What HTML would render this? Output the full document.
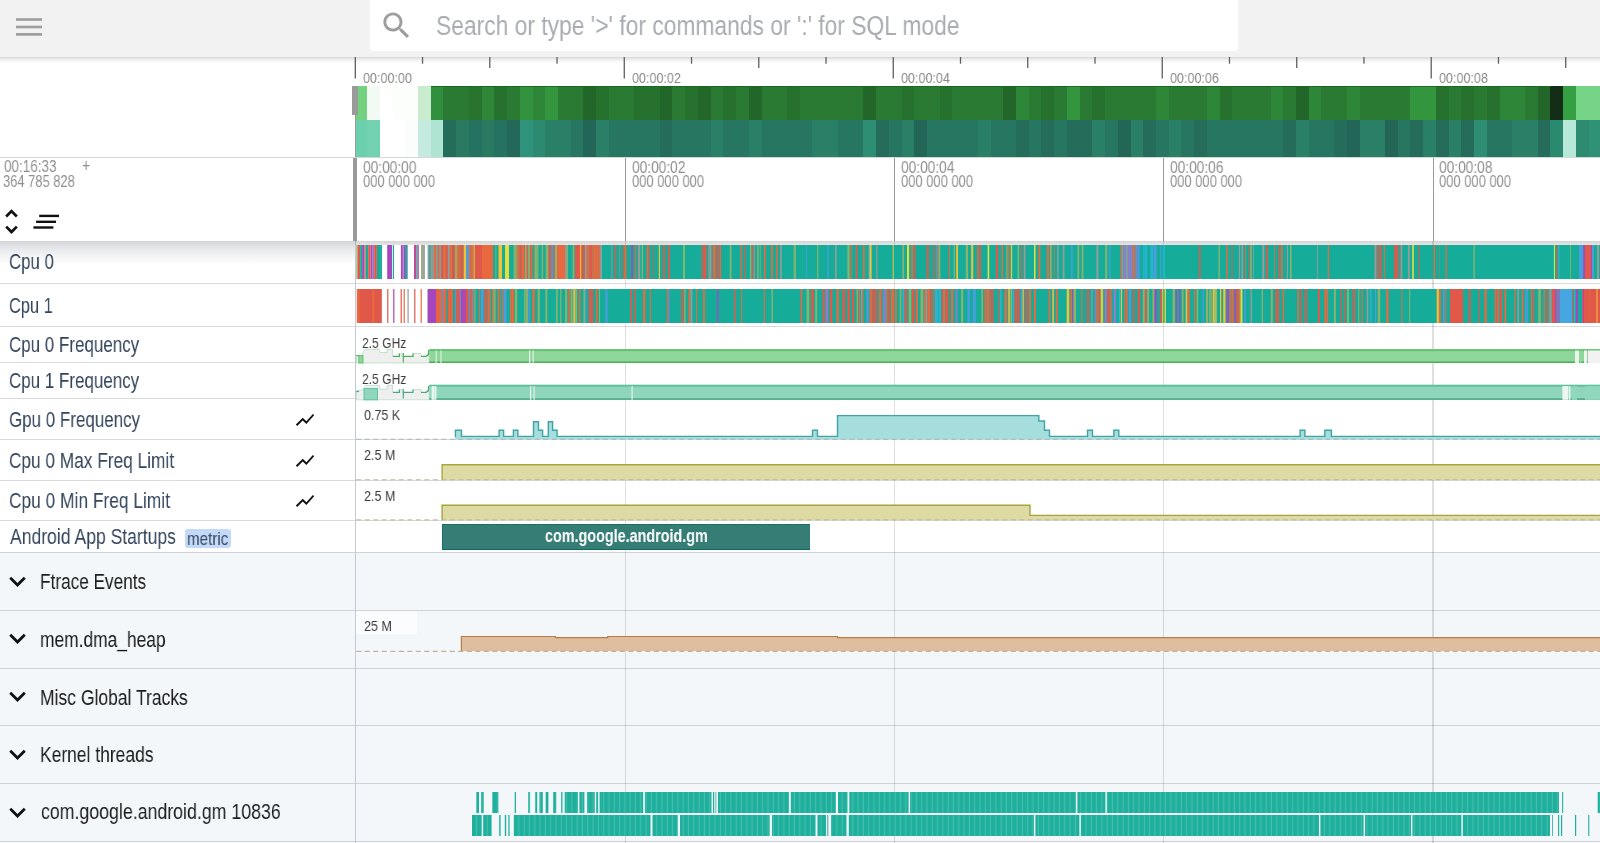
<!DOCTYPE html>
<html><head><meta charset="utf-8"><style>
html,body{margin:0;padding:0;}
body{width:1600px;height:843px;overflow:hidden;position:relative;background:#fff;font-family:"Liberation Sans",sans-serif;}
</style></head><body>
<div style="position:absolute;left:0px;top:0px;width:1600px;height:57px;background:#f2f2f2;"></div><div style="position:absolute;left:0;top:57px;width:1600px;height:6px;background:linear-gradient(rgba(0,0,0,0.16),rgba(0,0,0,0.07) 40%,rgba(0,0,0,0))"></div><svg style="position:absolute;left:0;top:0" width="60" height="57"><g fill="#9c9c9c"><rect x="16" y="18.2" width="26" height="2.6"/><rect x="16" y="25.7" width="26" height="2.6"/><rect x="16" y="33.1" width="26" height="2.6"/></g></svg><div style="position:absolute;left:370px;top:0px;width:868px;height:51px;background:#ffffff;border-radius:0 0 3px 3px"></div><svg style="position:absolute;left:378.6px;top:7.6px" width="35.2" height="35.2" viewBox="0 0 24 24"><path fill="#9d9d9d" d="M15.5 14h-.79l-.28-.27C15.41 12.59 16 11.11 16 9.5 16 5.91 13.09 3 9.5 3S3 5.91 3 9.5 5.91 16 9.5 16c1.610 0 3.09-.59 4.23-1.57l.27.28v.79l5 4.99L20.49 19l-4.99-5zm-6 0C7.01 14 5 11.99 5 9.5S7.01 5 9.5 5 14 7.01 14 9.5 11.99 14 9.5 14z"/></svg><svg style="position:absolute;left:0;top:57px" width="1600" height="30"><rect x="354.65" y="0" width="1.3" height="21.5" fill="#5f5f5f"/><rect x="421.90" y="0" width="1.3" height="6.7" fill="#5f5f5f"/><rect x="489.14" y="0" width="1.3" height="11" fill="#5f5f5f"/><rect x="556.39" y="0" width="1.3" height="6.7" fill="#5f5f5f"/><rect x="623.63" y="0" width="1.3" height="21.5" fill="#5f5f5f"/><rect x="690.88" y="0" width="1.3" height="6.7" fill="#5f5f5f"/><rect x="758.12" y="0" width="1.3" height="11" fill="#5f5f5f"/><rect x="825.37" y="0" width="1.3" height="6.7" fill="#5f5f5f"/><rect x="892.61" y="0" width="1.3" height="21.5" fill="#5f5f5f"/><rect x="959.86" y="0" width="1.3" height="6.7" fill="#5f5f5f"/><rect x="1027.10" y="0" width="1.3" height="11" fill="#5f5f5f"/><rect x="1094.34" y="0" width="1.3" height="6.7" fill="#5f5f5f"/><rect x="1161.59" y="0" width="1.3" height="21.5" fill="#5f5f5f"/><rect x="1228.84" y="0" width="1.3" height="6.7" fill="#5f5f5f"/><rect x="1296.08" y="0" width="1.3" height="11" fill="#5f5f5f"/><rect x="1363.32" y="0" width="1.3" height="6.7" fill="#5f5f5f"/><rect x="1430.57" y="0" width="1.3" height="21.5" fill="#5f5f5f"/><rect x="1497.82" y="0" width="1.3" height="6.7" fill="#5f5f5f"/><rect x="1565.06" y="0" width="1.3" height="11" fill="#5f5f5f"/></svg><svg style="position:absolute;left:0;top:86px" width="1600" height="71" shape-rendering="crispEdges"><rect x="355.60" y="0" width="11.90" height="34.2" fill="#74d17f"/><rect x="355.60" y="34.2" width="11.90" height="36.6" fill="#6ccfad"/><rect x="367.10" y="0" width="13.12" height="34.2" fill="#f3faf3"/><rect x="367.10" y="34.2" width="13.12" height="36.6" fill="#72d1b0"/><rect x="379.82" y="0" width="13.12" height="34.2" fill="#ffffff"/><rect x="379.82" y="34.2" width="13.12" height="36.6" fill="#ffffff"/><rect x="392.55" y="0" width="13.12" height="34.2" fill="#fcfefc"/><rect x="392.55" y="34.2" width="13.12" height="36.6" fill="#ffffff"/><rect x="405.27" y="0" width="13.12" height="34.2" fill="#fcfefc"/><rect x="405.27" y="34.2" width="13.12" height="36.6" fill="#fbfdfc"/><rect x="418.00" y="0" width="13.12" height="34.2" fill="#c9ecce"/><rect x="418.00" y="34.2" width="13.12" height="36.6" fill="#c5eadf"/><rect x="430.72" y="0" width="13.12" height="34.2" fill="#2f8f3c"/><rect x="430.72" y="34.2" width="13.12" height="36.6" fill="#aee4d1"/><rect x="443.44" y="0" width="13.12" height="34.2" fill="#2a7a34"/><rect x="443.44" y="34.2" width="13.12" height="36.6" fill="#246d5a"/><rect x="456.17" y="0" width="13.12" height="34.2" fill="#2a7a34"/><rect x="456.17" y="34.2" width="13.12" height="36.6" fill="#2a7a62"/><rect x="468.89" y="0" width="13.12" height="34.2" fill="#28742f"/><rect x="468.89" y="34.2" width="13.12" height="36.6" fill="#267260"/><rect x="481.62" y="0" width="13.12" height="34.2" fill="#2e8739"/><rect x="481.62" y="34.2" width="13.12" height="36.6" fill="#2a7a62"/><rect x="494.34" y="0" width="13.12" height="34.2" fill="#27712f"/><rect x="494.34" y="34.2" width="13.12" height="36.6" fill="#267260"/><rect x="507.06" y="0" width="13.12" height="34.2" fill="#2a7a34"/><rect x="507.06" y="34.2" width="13.12" height="36.6" fill="#24685a"/><rect x="519.79" y="0" width="13.12" height="34.2" fill="#32923d"/><rect x="519.79" y="34.2" width="13.12" height="36.6" fill="#2e937a"/><rect x="532.51" y="0" width="13.12" height="34.2" fill="#2e8739"/><rect x="532.51" y="34.2" width="13.12" height="36.6" fill="#2c8a70"/><rect x="545.24" y="0" width="13.12" height="34.2" fill="#34953f"/><rect x="545.24" y="34.2" width="13.12" height="36.6" fill="#2a7f67"/><rect x="557.96" y="0" width="13.12" height="34.2" fill="#2a7a34"/><rect x="557.96" y="34.2" width="13.12" height="36.6" fill="#2a7f67"/><rect x="570.68" y="0" width="13.12" height="34.2" fill="#2a7a34"/><rect x="570.68" y="34.2" width="13.12" height="36.6" fill="#277661"/><rect x="583.41" y="0" width="13.12" height="34.2" fill="#236629"/><rect x="583.41" y="34.2" width="13.12" height="36.6" fill="#236556"/><rect x="596.13" y="0" width="13.12" height="34.2" fill="#27712f"/><rect x="596.13" y="34.2" width="13.12" height="36.6" fill="#2a7f67"/><rect x="608.86" y="0" width="13.12" height="34.2" fill="#2a7a34"/><rect x="608.86" y="34.2" width="13.12" height="36.6" fill="#277661"/><rect x="621.58" y="0" width="13.12" height="34.2" fill="#2a7a34"/><rect x="621.58" y="34.2" width="13.12" height="36.6" fill="#277661"/><rect x="634.30" y="0" width="13.12" height="34.2" fill="#27712f"/><rect x="634.30" y="34.2" width="13.12" height="36.6" fill="#277661"/><rect x="647.03" y="0" width="13.12" height="34.2" fill="#27712f"/><rect x="647.03" y="34.2" width="13.12" height="36.6" fill="#277661"/><rect x="659.75" y="0" width="13.12" height="34.2" fill="#236629"/><rect x="659.75" y="34.2" width="13.12" height="36.6" fill="#256d5a"/><rect x="672.48" y="0" width="13.12" height="34.2" fill="#2a7a34"/><rect x="672.48" y="34.2" width="13.12" height="36.6" fill="#277661"/><rect x="685.20" y="0" width="13.12" height="34.2" fill="#27712f"/><rect x="685.20" y="34.2" width="13.12" height="36.6" fill="#277661"/><rect x="697.92" y="0" width="13.12" height="34.2" fill="#236629"/><rect x="697.92" y="34.2" width="13.12" height="36.6" fill="#277661"/><rect x="710.65" y="0" width="13.12" height="34.2" fill="#2a7a34"/><rect x="710.65" y="34.2" width="13.12" height="36.6" fill="#2a7f67"/><rect x="723.37" y="0" width="13.12" height="34.2" fill="#27712f"/><rect x="723.37" y="34.2" width="13.12" height="36.6" fill="#277661"/><rect x="736.10" y="0" width="13.12" height="34.2" fill="#2a7a34"/><rect x="736.10" y="34.2" width="13.12" height="36.6" fill="#277661"/><rect x="748.82" y="0" width="13.12" height="34.2" fill="#236629"/><rect x="748.82" y="34.2" width="13.12" height="36.6" fill="#2a7f67"/><rect x="761.54" y="0" width="13.12" height="34.2" fill="#2a7a34"/><rect x="761.54" y="34.2" width="13.12" height="36.6" fill="#277661"/><rect x="774.27" y="0" width="13.12" height="34.2" fill="#2a7a34"/><rect x="774.27" y="34.2" width="13.12" height="36.6" fill="#277661"/><rect x="786.99" y="0" width="13.12" height="34.2" fill="#27712f"/><rect x="786.99" y="34.2" width="13.12" height="36.6" fill="#277661"/><rect x="799.72" y="0" width="13.12" height="34.2" fill="#2a7a34"/><rect x="799.72" y="34.2" width="13.12" height="36.6" fill="#277661"/><rect x="812.44" y="0" width="13.12" height="34.2" fill="#2a7a34"/><rect x="812.44" y="34.2" width="13.12" height="36.6" fill="#2a7f67"/><rect x="825.16" y="0" width="13.12" height="34.2" fill="#2a7a34"/><rect x="825.16" y="34.2" width="13.12" height="36.6" fill="#2a7f67"/><rect x="837.89" y="0" width="13.12" height="34.2" fill="#2a7a34"/><rect x="837.89" y="34.2" width="13.12" height="36.6" fill="#277661"/><rect x="850.61" y="0" width="13.12" height="34.2" fill="#2a7a34"/><rect x="850.61" y="34.2" width="13.12" height="36.6" fill="#277661"/><rect x="863.34" y="0" width="13.12" height="34.2" fill="#236629"/><rect x="863.34" y="34.2" width="13.12" height="36.6" fill="#2e8e74"/><rect x="876.06" y="0" width="13.12" height="34.2" fill="#2a7a34"/><rect x="876.06" y="34.2" width="13.12" height="36.6" fill="#256d5a"/><rect x="888.78" y="0" width="13.12" height="34.2" fill="#2a7a34"/><rect x="888.78" y="34.2" width="13.12" height="36.6" fill="#277661"/><rect x="901.51" y="0" width="13.12" height="34.2" fill="#27712f"/><rect x="901.51" y="34.2" width="13.12" height="36.6" fill="#2a7f67"/><rect x="914.23" y="0" width="13.12" height="34.2" fill="#2a7a34"/><rect x="914.23" y="34.2" width="13.12" height="36.6" fill="#236556"/><rect x="926.96" y="0" width="13.12" height="34.2" fill="#2a7a34"/><rect x="926.96" y="34.2" width="13.12" height="36.6" fill="#277661"/><rect x="939.68" y="0" width="13.12" height="34.2" fill="#27712f"/><rect x="939.68" y="34.2" width="13.12" height="36.6" fill="#277661"/><rect x="952.40" y="0" width="13.12" height="34.2" fill="#2a7a34"/><rect x="952.40" y="34.2" width="13.12" height="36.6" fill="#277661"/><rect x="965.13" y="0" width="13.12" height="34.2" fill="#2a7a34"/><rect x="965.13" y="34.2" width="13.12" height="36.6" fill="#277661"/><rect x="977.85" y="0" width="13.12" height="34.2" fill="#2a7a34"/><rect x="977.85" y="34.2" width="13.12" height="36.6" fill="#2a7f67"/><rect x="990.58" y="0" width="13.12" height="34.2" fill="#2a7a34"/><rect x="990.58" y="34.2" width="13.12" height="36.6" fill="#277661"/><rect x="1003.30" y="0" width="13.12" height="34.2" fill="#236629"/><rect x="1003.30" y="34.2" width="13.12" height="36.6" fill="#277661"/><rect x="1016.02" y="0" width="13.12" height="34.2" fill="#2e8739"/><rect x="1016.02" y="34.2" width="13.12" height="36.6" fill="#256d5a"/><rect x="1028.75" y="0" width="13.12" height="34.2" fill="#2a7a34"/><rect x="1028.75" y="34.2" width="13.12" height="36.6" fill="#277661"/><rect x="1041.47" y="0" width="13.12" height="34.2" fill="#27712f"/><rect x="1041.47" y="34.2" width="13.12" height="36.6" fill="#256d5a"/><rect x="1054.20" y="0" width="13.12" height="34.2" fill="#2a7a34"/><rect x="1054.20" y="34.2" width="13.12" height="36.6" fill="#277661"/><rect x="1066.92" y="0" width="13.12" height="34.2" fill="#34953f"/><rect x="1066.92" y="34.2" width="13.12" height="36.6" fill="#256d5a"/><rect x="1079.64" y="0" width="13.12" height="34.2" fill="#2a7a34"/><rect x="1079.64" y="34.2" width="13.12" height="36.6" fill="#256d5a"/><rect x="1092.37" y="0" width="13.12" height="34.2" fill="#27712f"/><rect x="1092.37" y="34.2" width="13.12" height="36.6" fill="#2a7f67"/><rect x="1105.09" y="0" width="13.12" height="34.2" fill="#2a7a34"/><rect x="1105.09" y="34.2" width="13.12" height="36.6" fill="#277661"/><rect x="1117.82" y="0" width="13.12" height="34.2" fill="#2a7a34"/><rect x="1117.82" y="34.2" width="13.12" height="36.6" fill="#236556"/><rect x="1130.54" y="0" width="13.12" height="34.2" fill="#2a7a34"/><rect x="1130.54" y="34.2" width="13.12" height="36.6" fill="#2a7f67"/><rect x="1143.26" y="0" width="13.12" height="34.2" fill="#2a7a34"/><rect x="1143.26" y="34.2" width="13.12" height="36.6" fill="#256d5a"/><rect x="1155.99" y="0" width="13.12" height="34.2" fill="#2e8739"/><rect x="1155.99" y="34.2" width="13.12" height="36.6" fill="#277661"/><rect x="1168.71" y="0" width="13.12" height="34.2" fill="#2a7a34"/><rect x="1168.71" y="34.2" width="13.12" height="36.6" fill="#2a7f67"/><rect x="1181.44" y="0" width="13.12" height="34.2" fill="#2a7a34"/><rect x="1181.44" y="34.2" width="13.12" height="36.6" fill="#277661"/><rect x="1194.16" y="0" width="13.12" height="34.2" fill="#2a7a34"/><rect x="1194.16" y="34.2" width="13.12" height="36.6" fill="#256d5a"/><rect x="1206.88" y="0" width="13.12" height="34.2" fill="#2e8739"/><rect x="1206.88" y="34.2" width="13.12" height="36.6" fill="#277661"/><rect x="1219.61" y="0" width="13.12" height="34.2" fill="#27712f"/><rect x="1219.61" y="34.2" width="13.12" height="36.6" fill="#277661"/><rect x="1232.33" y="0" width="13.12" height="34.2" fill="#2a7a34"/><rect x="1232.33" y="34.2" width="13.12" height="36.6" fill="#277661"/><rect x="1245.06" y="0" width="13.12" height="34.2" fill="#2a7a34"/><rect x="1245.06" y="34.2" width="13.12" height="36.6" fill="#277661"/><rect x="1257.78" y="0" width="13.12" height="34.2" fill="#2a7a34"/><rect x="1257.78" y="34.2" width="13.12" height="36.6" fill="#277661"/><rect x="1270.50" y="0" width="13.12" height="34.2" fill="#2e8739"/><rect x="1270.50" y="34.2" width="13.12" height="36.6" fill="#277661"/><rect x="1283.23" y="0" width="13.12" height="34.2" fill="#2a7a34"/><rect x="1283.23" y="34.2" width="13.12" height="36.6" fill="#256d5a"/><rect x="1295.95" y="0" width="13.12" height="34.2" fill="#236629"/><rect x="1295.95" y="34.2" width="13.12" height="36.6" fill="#2a7f67"/><rect x="1308.68" y="0" width="13.12" height="34.2" fill="#2e8739"/><rect x="1308.68" y="34.2" width="13.12" height="36.6" fill="#277661"/><rect x="1321.40" y="0" width="13.12" height="34.2" fill="#2a7a34"/><rect x="1321.40" y="34.2" width="13.12" height="36.6" fill="#277661"/><rect x="1334.12" y="0" width="13.12" height="34.2" fill="#2a7a34"/><rect x="1334.12" y="34.2" width="13.12" height="36.6" fill="#256d5a"/><rect x="1346.85" y="0" width="13.12" height="34.2" fill="#2e8739"/><rect x="1346.85" y="34.2" width="13.12" height="36.6" fill="#236556"/><rect x="1359.57" y="0" width="13.12" height="34.2" fill="#2a7a34"/><rect x="1359.57" y="34.2" width="13.12" height="36.6" fill="#2a7f67"/><rect x="1372.30" y="0" width="13.12" height="34.2" fill="#2a7a34"/><rect x="1372.30" y="34.2" width="13.12" height="36.6" fill="#2a7f67"/><rect x="1385.02" y="0" width="13.12" height="34.2" fill="#2a7a34"/><rect x="1385.02" y="34.2" width="13.12" height="36.6" fill="#236556"/><rect x="1397.74" y="0" width="13.12" height="34.2" fill="#2a7a34"/><rect x="1397.74" y="34.2" width="13.12" height="36.6" fill="#277661"/><rect x="1410.47" y="0" width="13.12" height="34.2" fill="#34953f"/><rect x="1410.47" y="34.2" width="13.12" height="36.6" fill="#256d5a"/><rect x="1423.19" y="0" width="13.12" height="34.2" fill="#34953f"/><rect x="1423.19" y="34.2" width="13.12" height="36.6" fill="#2a7f67"/><rect x="1435.92" y="0" width="13.12" height="34.2" fill="#27712f"/><rect x="1435.92" y="34.2" width="13.12" height="36.6" fill="#256d5a"/><rect x="1448.64" y="0" width="13.12" height="34.2" fill="#2a7a34"/><rect x="1448.64" y="34.2" width="13.12" height="36.6" fill="#2a7f67"/><rect x="1461.36" y="0" width="13.12" height="34.2" fill="#27712f"/><rect x="1461.36" y="34.2" width="13.12" height="36.6" fill="#256d5a"/><rect x="1474.09" y="0" width="13.12" height="34.2" fill="#2a7a34"/><rect x="1474.09" y="34.2" width="13.12" height="36.6" fill="#2e8e74"/><rect x="1486.81" y="0" width="13.12" height="34.2" fill="#27712f"/><rect x="1486.81" y="34.2" width="13.12" height="36.6" fill="#277661"/><rect x="1499.54" y="0" width="13.12" height="34.2" fill="#2e8739"/><rect x="1499.54" y="34.2" width="13.12" height="36.6" fill="#277661"/><rect x="1512.26" y="0" width="13.12" height="34.2" fill="#2e8739"/><rect x="1512.26" y="34.2" width="13.12" height="36.6" fill="#2a7f67"/><rect x="1524.98" y="0" width="13.12" height="34.2" fill="#2a7a34"/><rect x="1524.98" y="34.2" width="13.12" height="36.6" fill="#2a7f67"/><rect x="1537.71" y="0" width="13.12" height="34.2" fill="#236629"/><rect x="1537.71" y="34.2" width="13.12" height="36.6" fill="#256d5a"/><rect x="1550.43" y="0" width="13.12" height="34.2" fill="#132d17"/><rect x="1550.43" y="34.2" width="13.12" height="36.6" fill="#2a8a70"/><rect x="1563.16" y="0" width="13.12" height="34.2" fill="#34a043"/><rect x="1563.16" y="34.2" width="13.12" height="36.6" fill="#b8e8d8"/><rect x="1575.88" y="0" width="13.12" height="34.2" fill="#76d486"/><rect x="1575.88" y="34.2" width="13.12" height="36.6" fill="#2e8a70"/><rect x="1588.60" y="0" width="11.80" height="34.2" fill="#76d486"/><rect x="1588.60" y="34.2" width="11.80" height="36.6" fill="#2f9277"/><rect x="430.5" y="0" width="1120" height="1.2" fill="#0f6a1a" opacity="0.8"/></svg><div style="position:absolute;left:351.7px;top:86px;width:6.7px;height:28.7px;background:#9a9a9a;"></div><div style="position:absolute;left:354.8px;top:114px;width:1.4px;height:43px;background:#9a9a9a;"></div><div style="position:absolute;left:0px;top:156.8px;width:1600px;height:1.2px;background:#d6d6d6;"></div><div style="position:absolute;left:353.2px;top:158px;width:3.6px;height:82.5px;background:#9a9a9a;"></div><div style="position:absolute;left:625.13px;top:158px;width:1.0px;height:82.5px;background:#999999;"></div><div style="position:absolute;left:894.26px;top:158px;width:1.0px;height:82.5px;background:#999999;"></div><div style="position:absolute;left:1163.3899999999999px;top:158px;width:1.0px;height:82.5px;background:#999999;"></div><div style="position:absolute;left:1432.52px;top:158px;width:1.0px;height:82.5px;background:#999999;"></div><svg style="position:absolute;left:-4.9px;top:205.2px" width="33" height="33" viewBox="0 0 24 24"><path fill="#111" d="M12 5.83L15.17 9l1.41-1.41L12 3 7.41 7.59 8.83 9 12 5.83zm0 12.34L8.83 15l-1.41 1.41L12 21l4.59-4.59L15.17 15 12 18.17z"/></svg><svg style="position:absolute;left:0;top:200px" width="70" height="40"><g stroke="#111" stroke-width="2.4" stroke-linecap="butt"><line x1="39.2" y1="15.9" x2="59" y2="15.9"/><line x1="36.1" y1="21.8" x2="56" y2="21.8"/><line x1="33.4" y1="27.5" x2="53.4" y2="27.5"/></g></svg><div style="position:absolute;left:0px;top:552.3px;width:1600px;height:290.70000000000005px;background:#f3f7fa;"></div><div style="position:absolute;left:0px;top:282.8px;width:1600px;height:1.0px;background:rgba(0,0,0,0.145);"></div><div style="position:absolute;left:0px;top:326.0px;width:1600px;height:1.0px;background:rgba(0,0,0,0.145);"></div><div style="position:absolute;left:0px;top:362.2px;width:1600px;height:1.0px;background:rgba(0,0,0,0.145);"></div><div style="position:absolute;left:0px;top:398.2px;width:1600px;height:1.0px;background:rgba(0,0,0,0.145);"></div><div style="position:absolute;left:0px;top:439.1px;width:1600px;height:1.0px;background:rgba(0,0,0,0.145);"></div><div style="position:absolute;left:0px;top:479.6px;width:1600px;height:1.0px;background:rgba(0,0,0,0.145);"></div><div style="position:absolute;left:0px;top:519.7px;width:1600px;height:1.0px;background:rgba(0,0,0,0.145);"></div><div style="position:absolute;left:0px;top:551.8px;width:1600px;height:1.0px;background:rgba(0,0,0,0.145);"></div><div style="position:absolute;left:0px;top:609.8px;width:1600px;height:1.0px;background:rgba(0,0,0,0.145);"></div><div style="position:absolute;left:0px;top:667.7px;width:1600px;height:1.0px;background:rgba(0,0,0,0.145);"></div><div style="position:absolute;left:0px;top:725.3px;width:1600px;height:1.0px;background:rgba(0,0,0,0.145);"></div><div style="position:absolute;left:0px;top:782.9px;width:1600px;height:1.0px;background:rgba(0,0,0,0.145);"></div><div style="position:absolute;left:0px;top:840.6px;width:1600px;height:1.0px;background:rgba(0,0,0,0.145);"></div><div style="position:absolute;left:625.03px;top:240.5px;width:1.2px;height:602.5px;background:rgba(0,0,0,0.125);"></div><div style="position:absolute;left:894.16px;top:240.5px;width:1.2px;height:602.5px;background:rgba(0,0,0,0.125);"></div><div style="position:absolute;left:1163.29px;top:240.5px;width:1.2px;height:602.5px;background:rgba(0,0,0,0.125);"></div><div style="position:absolute;left:1432.42px;top:240.5px;width:1.2px;height:602.5px;background:rgba(0,0,0,0.125);"></div><div style="position:absolute;left:355px;top:240.5px;width:1.3px;height:602.5px;background:#c3cad3;"></div><svg style="position:absolute;left:0;top:244.9px" width="1600" height="34.4"><rect x="427.8" y="0" width="1172.2" height="34.4" fill="#16ac9a"/><rect x="356.3" y="0" width="1.3" height="34.4" fill="#8db36b"/><rect x="357.6" y="0" width="2.5" height="34.4" fill="#e0584a"/><rect x="360.1" y="0" width="2.0" height="34.4" fill="#16ac9a"/><rect x="362.1" y="0" width="2.3" height="34.4" fill="#a647bf"/><rect x="364.4" y="0" width="1.2" height="34.4" fill="#e0584a"/><rect x="365.6" y="0" width="2.7" height="34.4" fill="#16ac9a"/><rect x="368.2" y="0" width="2.5" height="34.4" fill="#e0584a"/><rect x="370.8" y="0" width="1.9" height="34.4" fill="#a647bf"/><rect x="372.7" y="0" width="1.5" height="34.4" fill="#8a7fd0"/><rect x="374.1" y="0" width="2.8" height="34.4" fill="#e0584a"/><rect x="376.9" y="0" width="1.1" height="34.4" fill="#16ac9a"/><rect x="378.0" y="0" width="2.9" height="34.4" fill="#16ac9a"/><rect x="380.9" y="0" width="1.1" height="34.4" fill="#16ac9a"/><rect x="387.2" y="0" width="4.8" height="34.4" fill="#a647bf"/><rect x="392.8" y="0" width="1.2" height="34.4" fill="#16ac9a"/><rect x="400.9" y="0" width="1.3" height="34.4" fill="#a647bf"/><rect x="402.2" y="0" width="1.3" height="34.4" fill="#a647bf"/><rect x="403.6" y="0" width="1.4" height="34.4" fill="#a647bf"/><rect x="405.0" y="0" width="2.3" height="34.4" fill="#16ac9a"/><rect x="407.3" y="0" width="0.5" height="34.4" fill="#a647bf"/><rect x="414.0" y="0" width="2.5" height="34.4" fill="#c2479c"/><rect x="416.5" y="0" width="1.2" height="34.4" fill="#16ac9a"/><rect x="417.7" y="0" width="1.1" height="34.4" fill="#c2479c"/><rect x="421.1" y="0" width="3.8" height="34.4" fill="#b7cbb0"/><rect x="421.1" y="0" width="1.2" height="34.4" fill="#8db36b"/><rect x="422.3" y="0" width="1.1" height="34.4" fill="#999a9a"/><rect x="423.4" y="0" width="0.9" height="34.4" fill="#999a9a"/><rect x="424.3" y="0" width="0.6" height="34.4" fill="#999a9a"/><rect x="427.8" y="0" width="1.8" height="34.4" fill="#999a9a"/><rect x="429.6" y="0" width="1.1" height="34.4" fill="#16ac9a"/><rect x="430.6" y="0" width="2.2" height="34.4" fill="#999a9a"/><rect x="432.8" y="0" width="1.3" height="34.4" fill="#999a9a"/><rect x="434.1" y="0" width="2.1" height="34.4" fill="#e8693f"/><rect x="436.1" y="0" width="1.6" height="34.4" fill="#999a9a"/><rect x="437.7" y="0" width="1.8" height="34.4" fill="#e8693f"/><rect x="439.4" y="0" width="1.8" height="34.4" fill="#999a9a"/><rect x="441.2" y="0" width="1.7" height="34.4" fill="#e0584a"/><rect x="443.0" y="0" width="0.0" height="34.4" fill="#e8693f"/><rect x="443.0" y="0" width="3.0" height="34.4" fill="#e8693f"/><rect x="446.0" y="0" width="1.8" height="34.4" fill="#e0584a"/><rect x="447.8" y="0" width="2.0" height="34.4" fill="#999a9a"/><rect x="449.8" y="0" width="2.5" height="34.4" fill="#e8693f"/><rect x="452.3" y="0" width="2.7" height="34.4" fill="#e0584a"/><rect x="455.0" y="0" width="2.0" height="34.4" fill="#8db36b"/><rect x="457.0" y="0" width="2.2" height="34.4" fill="#e8693f"/><rect x="459.2" y="0" width="1.5" height="34.4" fill="#e8693f"/><rect x="460.7" y="0" width="2.9" height="34.4" fill="#e0584a"/><rect x="463.7" y="0" width="2.6" height="34.4" fill="#efc23a"/><rect x="466.2" y="0" width="2.8" height="34.4" fill="#4a9ee0"/><rect x="469.0" y="0" width="2.6" height="34.4" fill="#e8693f"/><rect x="471.6" y="0" width="2.1" height="34.4" fill="#e8693f"/><rect x="473.7" y="0" width="1.1" height="34.4" fill="#efc23a"/><rect x="474.8" y="0" width="0.2" height="34.4" fill="#e0584a"/><rect x="475.0" y="0" width="7.0" height="34.4" fill="#e0584a"/><rect x="475.0" y="0" width="1.0" height="34.4" fill="#e0584a"/><rect x="476.0" y="0" width="1.0" height="34.4" fill="#e0584a"/><rect x="477.0" y="0" width="1.0" height="34.4" fill="#e0584a"/><rect x="478.0" y="0" width="1.0" height="34.4" fill="#e0584a"/><rect x="479.0" y="0" width="1.0" height="34.4" fill="#e0584a"/><rect x="480.0" y="0" width="1.0" height="34.4" fill="#e0584a"/><rect x="481.0" y="0" width="1.0" height="34.4" fill="#e0584a"/><rect x="482.0" y="0" width="11.0" height="34.4" fill="#e8693f"/><rect x="482.0" y="0" width="1.0" height="34.4" fill="#e8693f"/><rect x="483.0" y="0" width="1.0" height="34.4" fill="#e8693f"/><rect x="484.0" y="0" width="1.0" height="34.4" fill="#e8693f"/><rect x="485.0" y="0" width="1.0" height="34.4" fill="#e8693f"/><rect x="486.0" y="0" width="1.0" height="34.4" fill="#e8693f"/><rect x="487.0" y="0" width="1.0" height="34.4" fill="#e8693f"/><rect x="488.0" y="0" width="1.0" height="34.4" fill="#e8693f"/><rect x="489.0" y="0" width="1.0" height="34.4" fill="#e8693f"/><rect x="490.0" y="0" width="1.0" height="34.4" fill="#e8693f"/><rect x="491.0" y="0" width="1.0" height="34.4" fill="#e8693f"/><rect x="492.0" y="0" width="1.0" height="34.4" fill="#e8693f"/><rect x="493.0" y="0" width="1.0" height="34.4" fill="#16ac9a"/><rect x="494.0" y="0" width="1.4" height="34.4" fill="#16ac9a"/><rect x="495.4" y="0" width="1.1" height="34.4" fill="#8db36b"/><rect x="496.6" y="0" width="1.5" height="34.4" fill="#16ac9a"/><rect x="498.1" y="0" width="0.9" height="34.4" fill="#8db36b"/><rect x="499.0" y="0" width="3.0" height="34.4" fill="#efc23a"/><rect x="499.0" y="0" width="1.0" height="34.4" fill="#efc23a"/><rect x="500.0" y="0" width="1.0" height="34.4" fill="#efc23a"/><rect x="501.0" y="0" width="1.0" height="34.4" fill="#efc23a"/><rect x="502.0" y="0" width="3.0" height="34.4" fill="#16ac9a"/><rect x="502.0" y="0" width="1.0" height="34.4" fill="#16ac9a"/><rect x="503.0" y="0" width="1.0" height="34.4" fill="#16ac9a"/><rect x="504.0" y="0" width="1.0" height="34.4" fill="#16ac9a"/><rect x="505.0" y="0" width="4.0" height="34.4" fill="#e7de3c"/><rect x="505.0" y="0" width="1.0" height="34.4" fill="#e7de3c"/><rect x="506.0" y="0" width="1.0" height="34.4" fill="#e7de3c"/><rect x="507.0" y="0" width="1.0" height="34.4" fill="#e7de3c"/><rect x="508.0" y="0" width="1.0" height="34.4" fill="#e7de3c"/><rect x="509.0" y="0" width="2.0" height="34.4" fill="#16ac9a"/><rect x="511.0" y="0" width="1.3" height="34.4" fill="#16ac9a"/><rect x="512.3" y="0" width="1.3" height="34.4" fill="#16ac9a"/><rect x="513.6" y="0" width="1.7" height="34.4" fill="#8db36b"/><rect x="515.3" y="0" width="1.3" height="34.4" fill="#8db36b"/><rect x="516.6" y="0" width="0.4" height="34.4" fill="#8db36b"/><rect x="517.0" y="0" width="2.6" height="34.4" fill="#e8693f"/><rect x="519.6" y="0" width="2.1" height="34.4" fill="#e0584a"/><rect x="521.8" y="0" width="2.7" height="34.4" fill="#e8693f"/><rect x="524.5" y="0" width="0.5" height="34.4" fill="#e0584a"/><rect x="525.0" y="0" width="1.8" height="34.4" fill="#8db36b"/><rect x="526.8" y="0" width="1.4" height="34.4" fill="#e0584a"/><rect x="528.2" y="0" width="1.9" height="34.4" fill="#8db36b"/><rect x="530.0" y="0" width="1.2" height="34.4" fill="#e0584a"/><rect x="531.2" y="0" width="1.6" height="34.4" fill="#e8693f"/><rect x="532.8" y="0" width="1.7" height="34.4" fill="#16ac9a"/><rect x="534.5" y="0" width="2.8" height="34.4" fill="#8db36b"/><rect x="537.3" y="0" width="1.4" height="34.4" fill="#8db36b"/><rect x="538.7" y="0" width="3.0" height="34.4" fill="#16ac9a"/><rect x="541.7" y="0" width="1.7" height="34.4" fill="#8db36b"/><rect x="543.3" y="0" width="2.3" height="34.4" fill="#16ac9a"/><rect x="545.7" y="0" width="2.9" height="34.4" fill="#8db36b"/><rect x="548.6" y="0" width="2.8" height="34.4" fill="#e0584a"/><rect x="551.3" y="0" width="2.0" height="34.4" fill="#4a9ee0"/><rect x="553.3" y="0" width="1.5" height="34.4" fill="#e0584a"/><rect x="554.8" y="0" width="1.2" height="34.4" fill="#8db36b"/><rect x="555.9" y="0" width="1.1" height="34.4" fill="#8db36b"/><rect x="557.0" y="0" width="8.0" height="34.4" fill="#e8693f"/><rect x="557.0" y="0" width="1.0" height="34.4" fill="#e8693f"/><rect x="558.0" y="0" width="1.0" height="34.4" fill="#e8693f"/><rect x="559.0" y="0" width="1.0" height="34.4" fill="#e8693f"/><rect x="560.0" y="0" width="1.0" height="34.4" fill="#e8693f"/><rect x="561.0" y="0" width="1.0" height="34.4" fill="#e8693f"/><rect x="562.0" y="0" width="1.0" height="34.4" fill="#e8693f"/><rect x="563.0" y="0" width="1.0" height="34.4" fill="#e8693f"/><rect x="564.0" y="0" width="1.0" height="34.4" fill="#e8693f"/><rect x="565.0" y="0" width="1.8" height="34.4" fill="#999a9a"/><rect x="566.8" y="0" width="1.3" height="34.4" fill="#8db36b"/><rect x="568.1" y="0" width="1.8" height="34.4" fill="#16ac9a"/><rect x="569.9" y="0" width="1.6" height="34.4" fill="#16ac9a"/><rect x="571.5" y="0" width="1.1" height="34.4" fill="#16ac9a"/><rect x="572.6" y="0" width="1.9" height="34.4" fill="#8db36b"/><rect x="574.5" y="0" width="0.5" height="34.4" fill="#16ac9a"/><rect x="575.0" y="0" width="5.0" height="34.4" fill="#e0584a"/><rect x="575.0" y="0" width="1.0" height="34.4" fill="#e0584a"/><rect x="576.0" y="0" width="1.0" height="34.4" fill="#e0584a"/><rect x="577.0" y="0" width="1.0" height="34.4" fill="#e0584a"/><rect x="578.0" y="0" width="1.0" height="34.4" fill="#e0584a"/><rect x="579.0" y="0" width="1.0" height="34.4" fill="#e0584a"/><rect x="580.0" y="0" width="1.0" height="34.4" fill="#efc23a"/><rect x="581.0" y="0" width="1.2" height="34.4" fill="#e8693f"/><rect x="582.2" y="0" width="1.5" height="34.4" fill="#e0584a"/><rect x="583.7" y="0" width="1.2" height="34.4" fill="#e0584a"/><rect x="584.9" y="0" width="1.8" height="34.4" fill="#999a9a"/><rect x="586.7" y="0" width="2.8" height="34.4" fill="#e8693f"/><rect x="589.5" y="0" width="1.5" height="34.4" fill="#e0584a"/><rect x="591.0" y="0" width="1.2" height="34.4" fill="#e0584a"/><rect x="592.2" y="0" width="1.1" height="34.4" fill="#e8693f"/><rect x="593.3" y="0" width="3.0" height="34.4" fill="#e8693f"/><rect x="596.2" y="0" width="2.2" height="34.4" fill="#e8693f"/><rect x="598.4" y="0" width="1.6" height="34.4" fill="#e8693f"/><rect x="600.1" y="0" width="1.9" height="34.4" fill="#999a9a"/><rect x="602.0" y="0" width="18.0" height="34.4" fill="#16ac9a"/><rect x="611.4" y="0" width="0.9" height="34.4" fill="#999a9a"/><rect x="614.8" y="0" width="1.5" height="34.4" fill="#e0584a"/><rect x="619.5" y="0" width="0.5" height="34.4" fill="#999a9a"/><rect x="620.0" y="0" width="80.0" height="34.4" fill="#16ac9a"/><rect x="621.7" y="0" width="1.1" height="34.4" fill="#e0584a"/><rect x="624.3" y="0" width="2.2" height="34.4" fill="#e8693f"/><rect x="631.2" y="0" width="1.7" height="34.4" fill="#a647bf"/><rect x="635.1" y="0" width="1.2" height="34.4" fill="#e8693f"/><rect x="638.1" y="0" width="2.0" height="34.4" fill="#999a9a"/><rect x="641.7" y="0" width="1.3" height="34.4" fill="#8db36b"/><rect x="646.8" y="0" width="1.6" height="34.4" fill="#e8693f"/><rect x="648.6" y="0" width="1.1" height="34.4" fill="#e0584a"/><rect x="653.3" y="0" width="0.9" height="34.4" fill="#e0584a"/><rect x="658.8" y="0" width="1.2" height="34.4" fill="#efc23a"/><rect x="663.0" y="0" width="2.0" height="34.4" fill="#e0584a"/><rect x="668.2" y="0" width="1.9" height="34.4" fill="#e0584a"/><rect x="683.5" y="0" width="1.0" height="34.4" fill="#efc23a"/><rect x="700.0" y="0" width="22.0" height="34.4" fill="#16ac9a"/><rect x="701.5" y="0" width="1.6" height="34.4" fill="#e0584a"/><rect x="703.7" y="0" width="2.8" height="34.4" fill="#e0584a"/><rect x="708.5" y="0" width="1.3" height="34.4" fill="#999a9a"/><rect x="709.8" y="0" width="1.6" height="34.4" fill="#999a9a"/><rect x="712.8" y="0" width="2.8" height="34.4" fill="#e8693f"/><rect x="716.8" y="0" width="2.4" height="34.4" fill="#e0584a"/><rect x="719.7" y="0" width="1.3" height="34.4" fill="#e8693f"/><rect x="722.0" y="0" width="0.0" height="34.4" fill="#e0584a"/><rect x="722.0" y="0" width="398.0" height="34.4" fill="#16ac9a"/><rect x="729.8" y="0" width="1.6" height="34.4" fill="#8db36b"/><rect x="740.5" y="0" width="1.4" height="34.4" fill="#e8693f"/><rect x="743.9" y="0" width="1.2" height="34.4" fill="#e0584a"/><rect x="750.0" y="0" width="1.4" height="34.4" fill="#8db36b"/><rect x="751.7" y="0" width="1.3" height="34.4" fill="#e0584a"/><rect x="753.6" y="0" width="1.2" height="34.4" fill="#999a9a"/><rect x="757.2" y="0" width="1.4" height="34.4" fill="#8db36b"/><rect x="759.8" y="0" width="0.8" height="34.4" fill="#8db36b"/><rect x="763.9" y="0" width="1.7" height="34.4" fill="#e8693f"/><rect x="771.1" y="0" width="1.8" height="34.4" fill="#e8693f"/><rect x="776.2" y="0" width="1.5" height="34.4" fill="#e8693f"/><rect x="780.2" y="0" width="1.6" height="34.4" fill="#999a9a"/><rect x="793.6" y="0" width="1.2" height="34.4" fill="#8db36b"/><rect x="795.0" y="0" width="0.9" height="34.4" fill="#8db36b"/><rect x="805.9" y="0" width="1.0" height="34.4" fill="#4a9ee0"/><rect x="817.1" y="0" width="1.2" height="34.4" fill="#8db36b"/><rect x="827.3" y="0" width="1.3" height="34.4" fill="#4a9ee0"/><rect x="835.0" y="0" width="1.6" height="34.4" fill="#999a9a"/><rect x="847.4" y="0" width="2.1" height="34.4" fill="#8db36b"/><rect x="850.5" y="0" width="1.2" height="34.4" fill="#e8693f"/><rect x="855.6" y="0" width="1.9" height="34.4" fill="#e0584a"/><rect x="862.9" y="0" width="1.8" height="34.4" fill="#e8693f"/><rect x="868.2" y="0" width="1.0" height="34.4" fill="#4a9ee0"/><rect x="869.4" y="0" width="2.2" height="34.4" fill="#efc23a"/><rect x="876.3" y="0" width="1.2" height="34.4" fill="#999a9a"/><rect x="892.7" y="0" width="1.0" height="34.4" fill="#efc23a"/><rect x="902.4" y="0" width="1.7" height="34.4" fill="#8db36b"/><rect x="907.0" y="0" width="2.1" height="34.4" fill="#e7de3c"/><rect x="911.3" y="0" width="1.9" height="34.4" fill="#e8693f"/><rect x="914.1" y="0" width="1.3" height="34.4" fill="#e0584a"/><rect x="926.7" y="0" width="2.1" height="34.4" fill="#e0584a"/><rect x="933.3" y="0" width="1.4" height="34.4" fill="#e0584a"/><rect x="936.3" y="0" width="1.1" height="34.4" fill="#4a9ee0"/><rect x="937.5" y="0" width="1.1" height="34.4" fill="#e8693f"/><rect x="938.6" y="0" width="1.7" height="34.4" fill="#8db36b"/><rect x="948.9" y="0" width="1.1" height="34.4" fill="#e8693f"/><rect x="953.7" y="0" width="1.2" height="34.4" fill="#8db36b"/><rect x="956.2" y="0" width="1.8" height="34.4" fill="#efc23a"/><rect x="965.8" y="0" width="2.2" height="34.4" fill="#8db36b"/><rect x="971.2" y="0" width="2.0" height="34.4" fill="#efc23a"/><rect x="977.2" y="0" width="1.3" height="34.4" fill="#e8693f"/><rect x="979.1" y="0" width="1.9" height="34.4" fill="#e0584a"/><rect x="987.6" y="0" width="1.6" height="34.4" fill="#e7de3c"/><rect x="995.9" y="0" width="2.2" height="34.4" fill="#e0584a"/><rect x="1001.4" y="0" width="1.6" height="34.4" fill="#e8693f"/><rect x="1006.3" y="0" width="1.3" height="34.4" fill="#8db36b"/><rect x="1007.6" y="0" width="1.4" height="34.4" fill="#e8693f"/><rect x="1010.8" y="0" width="1.4" height="34.4" fill="#efc23a"/><rect x="1017.6" y="0" width="1.5" height="34.4" fill="#8db36b"/><rect x="1021.3" y="0" width="1.1" height="34.4" fill="#e0584a"/><rect x="1023.9" y="0" width="1.6" height="34.4" fill="#999a9a"/><rect x="1034.0" y="0" width="1.5" height="34.4" fill="#e7de3c"/><rect x="1038.4" y="0" width="2.0" height="34.4" fill="#e8693f"/><rect x="1046.9" y="0" width="2.2" height="34.4" fill="#e8693f"/><rect x="1050.0" y="0" width="1.7" height="34.4" fill="#8db36b"/><rect x="1053.7" y="0" width="0.8" height="34.4" fill="#e8693f"/><rect x="1057.2" y="0" width="1.4" height="34.4" fill="#999a9a"/><rect x="1062.7" y="0" width="1.8" height="34.4" fill="#999a9a"/><rect x="1071.1" y="0" width="1.5" height="34.4" fill="#4a9ee0"/><rect x="1077.5" y="0" width="1.7" height="34.4" fill="#8db36b"/><rect x="1081.7" y="0" width="1.7" height="34.4" fill="#8db36b"/><rect x="1096.5" y="0" width="1.9" height="34.4" fill="#999a9a"/><rect x="1105.3" y="0" width="1.9" height="34.4" fill="#8db36b"/><rect x="1109.3" y="0" width="1.2" height="34.4" fill="#4a9ee0"/><rect x="1120.0" y="0" width="17.0" height="34.4" fill="#16ac9a"/><rect x="1120.2" y="0" width="1.2" height="34.4" fill="#e8693f"/><rect x="1121.7" y="0" width="1.7" height="34.4" fill="#999a9a"/><rect x="1123.6" y="0" width="2.1" height="34.4" fill="#8a7fd0"/><rect x="1125.8" y="0" width="2.0" height="34.4" fill="#999a9a"/><rect x="1128.1" y="0" width="2.4" height="34.4" fill="#8a7fd0"/><rect x="1130.6" y="0" width="2.0" height="34.4" fill="#8a7fd0"/><rect x="1132.7" y="0" width="1.3" height="34.4" fill="#e8693f"/><rect x="1134.1" y="0" width="1.1" height="34.4" fill="#e8693f"/><rect x="1135.5" y="0" width="1.5" height="34.4" fill="#8a7fd0"/><rect x="1137.0" y="0" width="28.0" height="34.4" fill="#16ac9a"/><rect x="1137.4" y="0" width="2.3" height="34.4" fill="#4a9ee0"/><rect x="1143.1" y="0" width="1.5" height="34.4" fill="#26b6d4"/><rect x="1145.1" y="0" width="2.1" height="34.4" fill="#26b6d4"/><rect x="1150.4" y="0" width="2.7" height="34.4" fill="#26b6d4"/><rect x="1153.6" y="0" width="2.9" height="34.4" fill="#4a9ee0"/><rect x="1160.2" y="0" width="1.1" height="34.4" fill="#4a9ee0"/><rect x="1163.2" y="0" width="1.6" height="34.4" fill="#26b6d4"/><rect x="1165.0" y="0" width="33.0" height="34.4" fill="#16ac9a"/><rect x="1198.0" y="0" width="132.0" height="34.4" fill="#16ac9a"/><rect x="1199.0" y="0" width="1.6" height="34.4" fill="#e0584a"/><rect x="1218.5" y="0" width="1.3" height="34.4" fill="#8db36b"/><rect x="1226.3" y="0" width="1.5" height="34.4" fill="#e8693f"/><rect x="1231.6" y="0" width="1.0" height="34.4" fill="#e0584a"/><rect x="1238.8" y="0" width="1.2" height="34.4" fill="#999a9a"/><rect x="1241.4" y="0" width="1.7" height="34.4" fill="#999a9a"/><rect x="1244.9" y="0" width="0.9" height="34.4" fill="#e8693f"/><rect x="1249.1" y="0" width="0.9" height="34.4" fill="#e0584a"/><rect x="1250.3" y="0" width="1.5" height="34.4" fill="#8db36b"/><rect x="1253.1" y="0" width="0.8" height="34.4" fill="#999a9a"/><rect x="1262.3" y="0" width="2.0" height="34.4" fill="#999a9a"/><rect x="1266.3" y="0" width="1.8" height="34.4" fill="#e0584a"/><rect x="1274.0" y="0" width="0.9" height="34.4" fill="#e8693f"/><rect x="1278.3" y="0" width="1.3" height="34.4" fill="#e0584a"/><rect x="1280.9" y="0" width="1.8" height="34.4" fill="#e8693f"/><rect x="1286.9" y="0" width="1.1" height="34.4" fill="#999a9a"/><rect x="1290.0" y="0" width="1.5" height="34.4" fill="#8db36b"/><rect x="1317.2" y="0" width="0.9" height="34.4" fill="#999a9a"/><rect x="1327.8" y="0" width="1.2" height="34.4" fill="#e8693f"/><rect x="1330.0" y="0" width="42.0" height="34.4" fill="#16ac9a"/><rect x="1372.0" y="0" width="68.0" height="34.4" fill="#16ac9a"/><rect x="1374.5" y="0" width="1.9" height="34.4" fill="#999a9a"/><rect x="1377.2" y="0" width="1.9" height="34.4" fill="#e0584a"/><rect x="1379.9" y="0" width="1.6" height="34.4" fill="#e0584a"/><rect x="1383.9" y="0" width="1.0" height="34.4" fill="#e8693f"/><rect x="1393.9" y="0" width="1.9" height="34.4" fill="#e0584a"/><rect x="1396.1" y="0" width="1.8" height="34.4" fill="#e0584a"/><rect x="1399.5" y="0" width="0.9" height="34.4" fill="#e0584a"/><rect x="1400.6" y="0" width="1.6" height="34.4" fill="#999a9a"/><rect x="1407.9" y="0" width="1.8" height="34.4" fill="#999a9a"/><rect x="1412.2" y="0" width="1.6" height="34.4" fill="#e7de3c"/><rect x="1418.8" y="0" width="1.1" height="34.4" fill="#e0584a"/><rect x="1433.5" y="0" width="1.5" height="34.4" fill="#e8693f"/><rect x="1439.6" y="0" width="0.4" height="34.4" fill="#e8693f"/><rect x="1440.0" y="0" width="40.0" height="34.4" fill="#16ac9a"/><rect x="1445.5" y="0" width="1.3" height="34.4" fill="#e8693f"/><rect x="1473.5" y="0" width="1.3" height="34.4" fill="#8db36b"/><rect x="1480.0" y="0" width="73.9" height="34.4" fill="#16ac9a"/><rect x="1553.9" y="0" width="1.1" height="34.4" fill="#16ac9a"/><rect x="1553.9" y="0" width="1.1" height="34.4" fill="#e7de3c"/><rect x="1556.0" y="0" width="1.3" height="34.4" fill="#e0584a"/><rect x="1557.3" y="0" width="21.7" height="34.4" fill="#16ac9a"/><rect x="1558.2" y="0" width="1.2" height="34.4" fill="#26b6d4"/><rect x="1570.2" y="0" width="0.8" height="34.4" fill="#8db36b"/><rect x="1579.0" y="0" width="4.0" height="34.4" fill="#4a9ee0"/><rect x="1579.0" y="0" width="1.0" height="34.4" fill="#4a9ee0"/><rect x="1580.0" y="0" width="1.0" height="34.4" fill="#4a9ee0"/><rect x="1581.0" y="0" width="1.0" height="34.4" fill="#4a9ee0"/><rect x="1582.0" y="0" width="1.0" height="34.4" fill="#4a9ee0"/><rect x="1583.5" y="0" width="1.5" height="34.4" fill="#a647bf"/><rect x="1583.5" y="0" width="1.0" height="34.4" fill="#a647bf"/><rect x="1584.5" y="0" width="0.5" height="34.4" fill="#a647bf"/><rect x="1585.0" y="0" width="6.0" height="34.4" fill="#e0584a"/><rect x="1585.0" y="0" width="1.0" height="34.4" fill="#e0584a"/><rect x="1586.0" y="0" width="1.0" height="34.4" fill="#e0584a"/><rect x="1587.0" y="0" width="1.0" height="34.4" fill="#e0584a"/><rect x="1588.0" y="0" width="1.0" height="34.4" fill="#e0584a"/><rect x="1589.0" y="0" width="1.0" height="34.4" fill="#e0584a"/><rect x="1590.0" y="0" width="1.0" height="34.4" fill="#e0584a"/><rect x="1591.0" y="0" width="1.0" height="34.4" fill="#a647bf"/><rect x="1591.0" y="0" width="1.0" height="34.4" fill="#a647bf"/><rect x="1592.0" y="0" width="1.5" height="34.4" fill="#4a9ee0"/><rect x="1592.0" y="0" width="1.0" height="34.4" fill="#4a9ee0"/><rect x="1593.0" y="0" width="0.5" height="34.4" fill="#4a9ee0"/><rect x="1597.0" y="0" width="2.0" height="34.4" fill="#999a9a"/><rect x="1597.0" y="0" width="1.0" height="34.4" fill="#999a9a"/><rect x="1598.0" y="0" width="1.0" height="34.4" fill="#999a9a"/></svg><svg style="position:absolute;left:0;top:288.5px" width="1600" height="34.4"><rect x="427.8" y="0" width="1172.2" height="34.4" fill="#16ac9a"/><rect x="356.9" y="0" width="24.7" height="34.4" fill="#e0584a"/><rect x="356.9" y="0" width="2.9" height="34.4" fill="#e8693f"/><rect x="359.8" y="0" width="1.1" height="34.4" fill="#e0584a"/><rect x="360.9" y="0" width="2.7" height="34.4" fill="#e0584a"/><rect x="363.6" y="0" width="2.3" height="34.4" fill="#e0584a"/><rect x="365.9" y="0" width="2.2" height="34.4" fill="#e0584a"/><rect x="368.1" y="0" width="2.2" height="34.4" fill="#e0584a"/><rect x="370.3" y="0" width="1.9" height="34.4" fill="#e0584a"/><rect x="372.2" y="0" width="2.4" height="34.4" fill="#e8693f"/><rect x="374.6" y="0" width="2.9" height="34.4" fill="#e0584a"/><rect x="377.5" y="0" width="1.9" height="34.4" fill="#e0584a"/><rect x="379.4" y="0" width="1.1" height="34.4" fill="#e0584a"/><rect x="380.5" y="0" width="1.1" height="34.4" fill="#e0584a"/><rect x="387.2" y="0" width="1.2" height="34.4" fill="#e0584a"/><rect x="393.2" y="0" width="1.2" height="34.4" fill="#a647bf"/><rect x="400.6" y="0" width="1.2" height="34.4" fill="#e0584a"/><rect x="403.6" y="0" width="1.2" height="34.4" fill="#e8693f"/><rect x="407.5" y="0" width="1.2" height="34.4" fill="#999a9a"/><rect x="414.2" y="0" width="1.2" height="34.4" fill="#e0584a"/><rect x="420.6" y="0" width="1.2" height="34.4" fill="#e8693f"/><rect x="427.8" y="0" width="8.2" height="34.4" fill="#a647bf"/><rect x="427.8" y="0" width="1.0" height="34.4" fill="#a647bf"/><rect x="428.8" y="0" width="1.0" height="34.4" fill="#a647bf"/><rect x="429.8" y="0" width="1.0" height="34.4" fill="#a647bf"/><rect x="430.8" y="0" width="1.0" height="34.4" fill="#a647bf"/><rect x="431.8" y="0" width="1.0" height="34.4" fill="#a647bf"/><rect x="432.8" y="0" width="1.0" height="34.4" fill="#a647bf"/><rect x="433.8" y="0" width="1.0" height="34.4" fill="#a647bf"/><rect x="434.8" y="0" width="1.0" height="34.4" fill="#a647bf"/><rect x="435.8" y="0" width="0.2" height="34.4" fill="#a647bf"/><rect x="436.0" y="0" width="34.0" height="34.4" fill="#e0584a"/><rect x="436.5" y="0" width="1.9" height="34.4" fill="#e8693f"/><rect x="439.0" y="0" width="2.4" height="34.4" fill="#e8693f"/><rect x="441.5" y="0" width="1.6" height="34.4" fill="#4a9ee0"/><rect x="443.2" y="0" width="2.8" height="34.4" fill="#e8693f"/><rect x="446.5" y="0" width="1.6" height="34.4" fill="#16ac9a"/><rect x="448.4" y="0" width="2.0" height="34.4" fill="#e8693f"/><rect x="450.7" y="0" width="2.2" height="34.4" fill="#e8693f"/><rect x="452.9" y="0" width="2.0" height="34.4" fill="#16ac9a"/><rect x="455.1" y="0" width="1.2" height="34.4" fill="#4a9ee0"/><rect x="456.6" y="0" width="2.8" height="34.4" fill="#e0584a"/><rect x="459.7" y="0" width="1.1" height="34.4" fill="#4a9ee0"/><rect x="460.9" y="0" width="1.5" height="34.4" fill="#a647bf"/><rect x="462.4" y="0" width="2.0" height="34.4" fill="#a647bf"/><rect x="464.5" y="0" width="1.4" height="34.4" fill="#a647bf"/><rect x="466.0" y="0" width="2.4" height="34.4" fill="#e0584a"/><rect x="468.6" y="0" width="1.3" height="34.4" fill="#4a9ee0"/><rect x="469.9" y="0" width="0.1" height="34.4" fill="#e0584a"/><rect x="470.0" y="0" width="70.0" height="34.4" fill="#16ac9a"/><rect x="470.0" y="0" width="1.5" height="34.4" fill="#e0584a"/><rect x="471.6" y="0" width="1.4" height="34.4" fill="#e8693f"/><rect x="473.3" y="0" width="1.1" height="34.4" fill="#4a9ee0"/><rect x="474.5" y="0" width="1.1" height="34.4" fill="#8db36b"/><rect x="476.2" y="0" width="2.5" height="34.4" fill="#16ac9a"/><rect x="479.0" y="0" width="1.1" height="34.4" fill="#e8693f"/><rect x="481.0" y="0" width="2.5" height="34.4" fill="#4a9ee0"/><rect x="484.4" y="0" width="2.7" height="34.4" fill="#e0584a"/><rect x="487.6" y="0" width="1.5" height="34.4" fill="#e8693f"/><rect x="489.3" y="0" width="1.2" height="34.4" fill="#e8693f"/><rect x="491.9" y="0" width="1.3" height="34.4" fill="#e8693f"/><rect x="493.5" y="0" width="2.0" height="34.4" fill="#8db36b"/><rect x="497.6" y="0" width="1.5" height="34.4" fill="#e8693f"/><rect x="499.5" y="0" width="1.0" height="34.4" fill="#e8693f"/><rect x="500.7" y="0" width="1.1" height="34.4" fill="#16ac9a"/><rect x="501.9" y="0" width="1.2" height="34.4" fill="#e8693f"/><rect x="503.6" y="0" width="3.0" height="34.4" fill="#4a9ee0"/><rect x="510.0" y="0" width="1.5" height="34.4" fill="#e8693f"/><rect x="511.7" y="0" width="2.2" height="34.4" fill="#e8693f"/><rect x="514.9" y="0" width="2.4" height="34.4" fill="#8db36b"/><rect x="517.7" y="0" width="2.1" height="34.4" fill="#16ac9a"/><rect x="519.8" y="0" width="1.8" height="34.4" fill="#16ac9a"/><rect x="522.5" y="0" width="1.5" height="34.4" fill="#16ac9a"/><rect x="524.1" y="0" width="1.5" height="34.4" fill="#8db36b"/><rect x="526.0" y="0" width="1.9" height="34.4" fill="#8db36b"/><rect x="528.6" y="0" width="1.4" height="34.4" fill="#4a9ee0"/><rect x="532.3" y="0" width="2.5" height="34.4" fill="#e8693f"/><rect x="535.2" y="0" width="2.2" height="34.4" fill="#16ac9a"/><rect x="537.7" y="0" width="2.1" height="34.4" fill="#8db36b"/><rect x="539.8" y="0" width="0.2" height="34.4" fill="#8db36b"/><rect x="540.0" y="0" width="60.0" height="34.4" fill="#16ac9a"/><rect x="545.4" y="0" width="1.9" height="34.4" fill="#8db36b"/><rect x="556.1" y="0" width="1.6" height="34.4" fill="#8db36b"/><rect x="560.2" y="0" width="1.2" height="34.4" fill="#8db36b"/><rect x="565.2" y="0" width="2.0" height="34.4" fill="#8db36b"/><rect x="568.5" y="0" width="1.6" height="34.4" fill="#e8693f"/><rect x="570.7" y="0" width="1.9" height="34.4" fill="#8db36b"/><rect x="573.3" y="0" width="1.6" height="34.4" fill="#efc23a"/><rect x="575.0" y="0" width="2.1" height="34.4" fill="#8db36b"/><rect x="578.9" y="0" width="1.6" height="34.4" fill="#e8693f"/><rect x="583.5" y="0" width="1.6" height="34.4" fill="#8db36b"/><rect x="585.4" y="0" width="1.1" height="34.4" fill="#4a9ee0"/><rect x="588.7" y="0" width="2.4" height="34.4" fill="#e0584a"/><rect x="591.2" y="0" width="2.0" height="34.4" fill="#e0584a"/><rect x="595.9" y="0" width="1.7" height="34.4" fill="#e8693f"/><rect x="599.0" y="0" width="1.0" height="34.4" fill="#8db36b"/><rect x="600.0" y="0" width="40.0" height="34.4" fill="#16ac9a"/><rect x="605.5" y="0" width="2.0" height="34.4" fill="#4a9ee0"/><rect x="630.3" y="0" width="1.8" height="34.4" fill="#e0584a"/><rect x="634.4" y="0" width="1.5" height="34.4" fill="#e0584a"/><rect x="640.0" y="0" width="60.0" height="34.4" fill="#16ac9a"/><rect x="643.0" y="0" width="2.4" height="34.4" fill="#e8693f"/><rect x="649.8" y="0" width="1.1" height="34.4" fill="#e8693f"/><rect x="667.0" y="0" width="1.2" height="34.4" fill="#e8693f"/><rect x="668.4" y="0" width="1.1" height="34.4" fill="#8a7fd0"/><rect x="681.3" y="0" width="2.0" height="34.4" fill="#e0584a"/><rect x="684.2" y="0" width="1.3" height="34.4" fill="#8db36b"/><rect x="688.5" y="0" width="1.7" height="34.4" fill="#e8693f"/><rect x="690.5" y="0" width="1.8" height="34.4" fill="#999a9a"/><rect x="696.0" y="0" width="1.1" height="34.4" fill="#e8693f"/><rect x="700.0" y="0" width="106.0" height="34.4" fill="#16ac9a"/><rect x="703.0" y="0" width="1.9" height="34.4" fill="#e8693f"/><rect x="717.1" y="0" width="1.4" height="34.4" fill="#a647bf"/><rect x="733.8" y="0" width="1.6" height="34.4" fill="#e0584a"/><rect x="741.2" y="0" width="1.0" height="34.4" fill="#e8693f"/><rect x="763.7" y="0" width="1.2" height="34.4" fill="#e8693f"/><rect x="771.5" y="0" width="1.4" height="34.4" fill="#8db36b"/><rect x="800.6" y="0" width="1.7" height="34.4" fill="#e8693f"/><rect x="806.0" y="0" width="214.0" height="34.4" fill="#16ac9a"/><rect x="806.6" y="0" width="2.5" height="34.4" fill="#8db36b"/><rect x="811.1" y="0" width="2.7" height="34.4" fill="#e0584a"/><rect x="815.3" y="0" width="1.8" height="34.4" fill="#8db36b"/><rect x="822.5" y="0" width="2.3" height="34.4" fill="#e0584a"/><rect x="825.7" y="0" width="2.4" height="34.4" fill="#8a7fd0"/><rect x="829.7" y="0" width="2.6" height="34.4" fill="#e0584a"/><rect x="836.4" y="0" width="2.5" height="34.4" fill="#e8693f"/><rect x="842.3" y="0" width="2.8" height="34.4" fill="#e0584a"/><rect x="847.5" y="0" width="2.5" height="34.4" fill="#e0584a"/><rect x="852.0" y="0" width="2.2" height="34.4" fill="#e0584a"/><rect x="856.6" y="0" width="1.3" height="34.4" fill="#8db36b"/><rect x="858.7" y="0" width="1.5" height="34.4" fill="#e8693f"/><rect x="861.1" y="0" width="1.4" height="34.4" fill="#999a9a"/><rect x="862.6" y="0" width="1.0" height="34.4" fill="#e8693f"/><rect x="866.3" y="0" width="2.3" height="34.4" fill="#4a9ee0"/><rect x="869.5" y="0" width="2.3" height="34.4" fill="#e8693f"/><rect x="872.3" y="0" width="2.0" height="34.4" fill="#e0584a"/><rect x="874.5" y="0" width="2.5" height="34.4" fill="#e0584a"/><rect x="879.0" y="0" width="2.6" height="34.4" fill="#e8693f"/><rect x="883.2" y="0" width="2.6" height="34.4" fill="#8a7fd0"/><rect x="886.0" y="0" width="1.3" height="34.4" fill="#e8693f"/><rect x="888.2" y="0" width="1.6" height="34.4" fill="#e0584a"/><rect x="891.0" y="0" width="2.9" height="34.4" fill="#e8693f"/><rect x="895.0" y="0" width="1.8" height="34.4" fill="#e8693f"/><rect x="899.7" y="0" width="1.6" height="34.4" fill="#8db36b"/><rect x="902.3" y="0" width="2.1" height="34.4" fill="#26b6d4"/><rect x="904.5" y="0" width="2.6" height="34.4" fill="#e0584a"/><rect x="908.7" y="0" width="2.6" height="34.4" fill="#8db36b"/><rect x="912.0" y="0" width="2.7" height="34.4" fill="#e0584a"/><rect x="916.1" y="0" width="1.8" height="34.4" fill="#e8693f"/><rect x="920.6" y="0" width="2.6" height="34.4" fill="#8db36b"/><rect x="923.8" y="0" width="1.5" height="34.4" fill="#e8693f"/><rect x="925.6" y="0" width="1.6" height="34.4" fill="#999a9a"/><rect x="927.3" y="0" width="2.6" height="34.4" fill="#e8693f"/><rect x="930.6" y="0" width="1.6" height="34.4" fill="#e0584a"/><rect x="933.2" y="0" width="1.3" height="34.4" fill="#e8693f"/><rect x="935.0" y="0" width="2.8" height="34.4" fill="#26b6d4"/><rect x="938.6" y="0" width="2.3" height="34.4" fill="#26b6d4"/><rect x="941.5" y="0" width="1.2" height="34.4" fill="#e0584a"/><rect x="943.0" y="0" width="2.4" height="34.4" fill="#e8693f"/><rect x="946.0" y="0" width="2.6" height="34.4" fill="#e0584a"/><rect x="951.0" y="0" width="2.3" height="34.4" fill="#e8693f"/><rect x="955.7" y="0" width="1.7" height="34.4" fill="#8a7fd0"/><rect x="961.2" y="0" width="2.0" height="34.4" fill="#8db36b"/><rect x="967.5" y="0" width="2.5" height="34.4" fill="#4a9ee0"/><rect x="972.9" y="0" width="2.9" height="34.4" fill="#4a9ee0"/><rect x="981.4" y="0" width="1.6" height="34.4" fill="#8db36b"/><rect x="984.6" y="0" width="1.7" height="34.4" fill="#e8693f"/><rect x="986.6" y="0" width="2.9" height="34.4" fill="#e8693f"/><rect x="990.5" y="0" width="2.8" height="34.4" fill="#e0584a"/><rect x="997.9" y="0" width="1.3" height="34.4" fill="#e0584a"/><rect x="999.8" y="0" width="1.7" height="34.4" fill="#26b6d4"/><rect x="1004.6" y="0" width="2.5" height="34.4" fill="#e8693f"/><rect x="1008.3" y="0" width="1.5" height="34.4" fill="#efc23a"/><rect x="1010.5" y="0" width="1.6" height="34.4" fill="#8db36b"/><rect x="1012.3" y="0" width="1.6" height="34.4" fill="#26b6d4"/><rect x="1014.1" y="0" width="1.3" height="34.4" fill="#e0584a"/><rect x="1015.8" y="0" width="1.8" height="34.4" fill="#e0584a"/><rect x="1018.2" y="0" width="1.5" height="34.4" fill="#e0584a"/><rect x="1020.0" y="0" width="130.0" height="34.4" fill="#16ac9a"/><rect x="1020.9" y="0" width="1.6" height="34.4" fill="#4a9ee0"/><rect x="1022.6" y="0" width="1.2" height="34.4" fill="#efc23a"/><rect x="1025.0" y="0" width="2.2" height="34.4" fill="#e0584a"/><rect x="1028.7" y="0" width="2.3" height="34.4" fill="#e8693f"/><rect x="1034.1" y="0" width="1.9" height="34.4" fill="#e8693f"/><rect x="1048.7" y="0" width="1.6" height="34.4" fill="#e8693f"/><rect x="1052.4" y="0" width="1.5" height="34.4" fill="#efc23a"/><rect x="1055.8" y="0" width="1.9" height="34.4" fill="#e8693f"/><rect x="1066.7" y="0" width="2.5" height="34.4" fill="#efc23a"/><rect x="1070.5" y="0" width="1.6" height="34.4" fill="#e8693f"/><rect x="1072.2" y="0" width="1.2" height="34.4" fill="#a647bf"/><rect x="1073.6" y="0" width="2.4" height="34.4" fill="#8db36b"/><rect x="1081.3" y="0" width="1.1" height="34.4" fill="#e8693f"/><rect x="1085.8" y="0" width="1.0" height="34.4" fill="#e0584a"/><rect x="1087.8" y="0" width="1.3" height="34.4" fill="#e0584a"/><rect x="1091.4" y="0" width="1.1" height="34.4" fill="#999a9a"/><rect x="1094.8" y="0" width="1.1" height="34.4" fill="#8a7fd0"/><rect x="1096.5" y="0" width="1.7" height="34.4" fill="#e8693f"/><rect x="1098.5" y="0" width="1.8" height="34.4" fill="#e0584a"/><rect x="1100.7" y="0" width="2.4" height="34.4" fill="#efc23a"/><rect x="1104.7" y="0" width="2.0" height="34.4" fill="#8a7fd0"/><rect x="1107.0" y="0" width="1.7" height="34.4" fill="#e0584a"/><rect x="1109.0" y="0" width="1.2" height="34.4" fill="#e0584a"/><rect x="1110.3" y="0" width="1.3" height="34.4" fill="#e8693f"/><rect x="1113.7" y="0" width="2.3" height="34.4" fill="#8a7fd0"/><rect x="1118.7" y="0" width="1.8" height="34.4" fill="#26b6d4"/><rect x="1120.9" y="0" width="1.2" height="34.4" fill="#efc23a"/><rect x="1124.1" y="0" width="1.3" height="34.4" fill="#e8693f"/><rect x="1126.2" y="0" width="1.6" height="34.4" fill="#e8693f"/><rect x="1128.9" y="0" width="2.2" height="34.4" fill="#4a9ee0"/><rect x="1132.9" y="0" width="1.7" height="34.4" fill="#e0584a"/><rect x="1137.7" y="0" width="2.5" height="34.4" fill="#e0584a"/><rect x="1142.8" y="0" width="2.0" height="34.4" fill="#8db36b"/><rect x="1144.9" y="0" width="1.8" height="34.4" fill="#e0584a"/><rect x="1147.2" y="0" width="1.9" height="34.4" fill="#8db36b"/><rect x="1150.0" y="0" width="100.0" height="34.4" fill="#16ac9a"/><rect x="1152.4" y="0" width="2.1" height="34.4" fill="#8db36b"/><rect x="1154.5" y="0" width="2.2" height="34.4" fill="#a647bf"/><rect x="1159.8" y="0" width="1.9" height="34.4" fill="#e0584a"/><rect x="1162.1" y="0" width="1.2" height="34.4" fill="#efc23a"/><rect x="1164.6" y="0" width="1.3" height="34.4" fill="#e7de3c"/><rect x="1172.6" y="0" width="2.3" height="34.4" fill="#8db36b"/><rect x="1175.6" y="0" width="1.3" height="34.4" fill="#a647bf"/><rect x="1179.0" y="0" width="1.4" height="34.4" fill="#a647bf"/><rect x="1181.9" y="0" width="1.6" height="34.4" fill="#8db36b"/><rect x="1185.7" y="0" width="1.7" height="34.4" fill="#efc23a"/><rect x="1187.6" y="0" width="2.1" height="34.4" fill="#e8693f"/><rect x="1193.9" y="0" width="1.3" height="34.4" fill="#e8693f"/><rect x="1196.6" y="0" width="1.6" height="34.4" fill="#8db36b"/><rect x="1202.7" y="0" width="1.3" height="34.4" fill="#4a9ee0"/><rect x="1206.0" y="0" width="2.2" height="34.4" fill="#8db36b"/><rect x="1209.3" y="0" width="1.5" height="34.4" fill="#8db36b"/><rect x="1211.3" y="0" width="1.3" height="34.4" fill="#8db36b"/><rect x="1213.0" y="0" width="1.7" height="34.4" fill="#efc23a"/><rect x="1215.3" y="0" width="1.3" height="34.4" fill="#efc23a"/><rect x="1220.0" y="0" width="1.3" height="34.4" fill="#efc23a"/><rect x="1223.2" y="0" width="2.3" height="34.4" fill="#efc23a"/><rect x="1226.2" y="0" width="1.3" height="34.4" fill="#a647bf"/><rect x="1228.1" y="0" width="1.0" height="34.4" fill="#a647bf"/><rect x="1229.5" y="0" width="1.5" height="34.4" fill="#e8693f"/><rect x="1231.5" y="0" width="2.1" height="34.4" fill="#e8693f"/><rect x="1234.6" y="0" width="1.6" height="34.4" fill="#a647bf"/><rect x="1236.3" y="0" width="1.9" height="34.4" fill="#e0584a"/><rect x="1238.5" y="0" width="1.9" height="34.4" fill="#e8693f"/><rect x="1240.5" y="0" width="1.9" height="34.4" fill="#e7de3c"/><rect x="1244.2" y="0" width="1.7" height="34.4" fill="#4a9ee0"/><rect x="1250.0" y="0" width="200.0" height="34.4" fill="#16ac9a"/><rect x="1250.6" y="0" width="1.4" height="34.4" fill="#999a9a"/><rect x="1261.7" y="0" width="1.3" height="34.4" fill="#8db36b"/><rect x="1270.8" y="0" width="1.9" height="34.4" fill="#8db36b"/><rect x="1275.4" y="0" width="1.4" height="34.4" fill="#e0584a"/><rect x="1277.0" y="0" width="2.0" height="34.4" fill="#e0584a"/><rect x="1282.6" y="0" width="1.6" height="34.4" fill="#e8693f"/><rect x="1297.3" y="0" width="1.6" height="34.4" fill="#e8693f"/><rect x="1300.7" y="0" width="1.3" height="34.4" fill="#e0584a"/><rect x="1304.8" y="0" width="2.2" height="34.4" fill="#e0584a"/><rect x="1317.9" y="0" width="2.0" height="34.4" fill="#e0584a"/><rect x="1324.4" y="0" width="1.6" height="34.4" fill="#e8693f"/><rect x="1326.4" y="0" width="1.8" height="34.4" fill="#e8693f"/><rect x="1333.9" y="0" width="1.9" height="34.4" fill="#8db36b"/><rect x="1340.7" y="0" width="1.3" height="34.4" fill="#e0584a"/><rect x="1344.4" y="0" width="1.2" height="34.4" fill="#e0584a"/><rect x="1347.1" y="0" width="1.8" height="34.4" fill="#8db36b"/><rect x="1352.7" y="0" width="2.4" height="34.4" fill="#e0584a"/><rect x="1358.2" y="0" width="1.1" height="34.4" fill="#8db36b"/><rect x="1361.5" y="0" width="1.2" height="34.4" fill="#e8693f"/><rect x="1366.7" y="0" width="1.7" height="34.4" fill="#999a9a"/><rect x="1370.0" y="0" width="1.5" height="34.4" fill="#26b6d4"/><rect x="1375.0" y="0" width="1.2" height="34.4" fill="#4a9ee0"/><rect x="1377.8" y="0" width="2.4" height="34.4" fill="#8db36b"/><rect x="1386.3" y="0" width="2.3" height="34.4" fill="#e8693f"/><rect x="1401.4" y="0" width="1.0" height="34.4" fill="#e8693f"/><rect x="1409.2" y="0" width="1.0" height="34.4" fill="#8db36b"/><rect x="1436.7" y="0" width="2.1" height="34.4" fill="#efc23a"/><rect x="1439.0" y="0" width="1.8" height="34.4" fill="#e8693f"/><rect x="1443.0" y="0" width="1.6" height="34.4" fill="#4a9ee0"/><rect x="1445.3" y="0" width="1.1" height="34.4" fill="#e8693f"/><rect x="1450.0" y="0" width="13.0" height="34.4" fill="#e0584a"/><rect x="1463.0" y="0" width="89.0" height="34.4" fill="#16ac9a"/><rect x="1468.7" y="0" width="2.0" height="34.4" fill="#e0584a"/><rect x="1478.3" y="0" width="1.1" height="34.4" fill="#e0584a"/><rect x="1484.4" y="0" width="2.3" height="34.4" fill="#e8693f"/><rect x="1494.6" y="0" width="1.2" height="34.4" fill="#e8693f"/><rect x="1496.0" y="0" width="1.4" height="34.4" fill="#e0584a"/><rect x="1497.3" y="0" width="1.6" height="34.4" fill="#e8693f"/><rect x="1500.0" y="0" width="2.0" height="34.4" fill="#e0584a"/><rect x="1504.4" y="0" width="1.8" height="34.4" fill="#e8693f"/><rect x="1514.2" y="0" width="1.2" height="34.4" fill="#e8693f"/><rect x="1517.4" y="0" width="1.6" height="34.4" fill="#999a9a"/><rect x="1521.7" y="0" width="1.8" height="34.4" fill="#e8693f"/><rect x="1525.3" y="0" width="2.4" height="34.4" fill="#4a9ee0"/><rect x="1531.1" y="0" width="1.2" height="34.4" fill="#e8693f"/><rect x="1532.8" y="0" width="1.5" height="34.4" fill="#e0584a"/><rect x="1538.3" y="0" width="2.5" height="34.4" fill="#8db36b"/><rect x="1543.5" y="0" width="1.4" height="34.4" fill="#e8693f"/><rect x="1546.9" y="0" width="1.6" height="34.4" fill="#e0584a"/><rect x="1549.4" y="0" width="2.1" height="34.4" fill="#999a9a"/><rect x="1552.0" y="0" width="3.0" height="34.4" fill="#e0584a"/><rect x="1555.0" y="0" width="1.0" height="34.4" fill="#a647bf"/><rect x="1556.0" y="0" width="4.0" height="34.4" fill="#7f78b8"/><rect x="1560.0" y="0" width="12.0" height="34.4" fill="#45a6e2"/><rect x="1572.0" y="0" width="1.0" height="34.4" fill="#e0584a"/><rect x="1574.0" y="0" width="1.0" height="34.4" fill="#45a6e2"/><rect x="1576.0" y="0" width="2.0" height="34.4" fill="#a647bf"/><rect x="1582.0" y="0" width="1.0" height="34.4" fill="#e0584a"/><rect x="1583.0" y="0" width="1.0" height="34.4" fill="#a647bf"/><rect x="1584.0" y="0" width="16.0" height="34.4" fill="#e0584a"/><rect x="1589.5" y="0" width="0.8" height="34.4" fill="#e8693f"/><rect x="1596.5" y="0" width="1.0" height="34.4" fill="#efc23a"/></svg><div style="position:absolute;left:0;top:240.5px;width:355px;height:25px;background:linear-gradient(rgba(30,40,60,0.2),rgba(30,40,60,0.125) 24%,rgba(30,40,60,0.06) 54%,rgba(30,40,60,0.02) 83%,rgba(30,40,60,0))"></div><div style="position:absolute;left:355px;top:240.5px;width:1245px;height:4.7px;background:linear-gradient(rgba(0,0,0,0.17),rgba(0,0,0,0.1))"></div><svg style="position:absolute;left:0;top:0" width="1600" height="843"><path d="M356.3 363.0 L356.3 355.5 L361 355.5 L362.5 355.5 L362.5 353.0 L364 350.5 L366 349.3 L379 349.3 L380 352.5 L387 352.5 L387 349.3 L392.6 349.3 L392.6 356.5 L399 356.5 L399 353.7 L402 353.7 L402 356.5 L413 356.5 L413 353.5 L421 353.5 L421 356.5 L427 356.5 L427 355 L429.3 350 L429.3 363.0 Z" fill="#efefef" stroke="#62c26f" stroke-opacity="0.35" stroke-width="1"/><path d="M356.3 355.6 L358.8 355.6" fill="none" stroke="#4fac5c" stroke-width="1.2"/><path d="M393 356.3 L399.4 356.3 L399.4 353.4" fill="none" stroke="#4fac5c" stroke-width="1.2"/><path d="M403.3 353 L403.3 362.5" fill="none" stroke="#4fac5c" stroke-width="1.2"/><path d="M403.3 356.3 L413 356.3 L413 353.6" fill="none" stroke="#4fac5c" stroke-width="1.2"/><path d="M421 356.3 L426 356.3 L428.6 354.6 L428.6 350" fill="none" stroke="#4fac5c" stroke-width="1.2"/><rect x="358.8" y="355.6" width="4.199999999999989" height="7.399999999999977" fill="#8fd69a" stroke="#62c26f" stroke-width="1"/><rect x="429.3" y="349.2" width="1170.7" height="13.800000000000011" fill="#8fd69a"/><rect x="429.3" y="349.2" width="1170.7" height="1.9" fill="#62c26f"/><rect x="429.3" y="361.5" width="1170.7" height="1.5" fill="#4fac5c"/><rect x="435.6" y="350.5" width="1.2" height="12.50000000000001" fill="#d8f0dc"/><rect x="440.4" y="350.5" width="1.2" height="12.50000000000001" fill="#d8f0dc"/><rect x="529" y="350.5" width="1.3" height="12.50000000000001" fill="#e4f4e7"/><rect x="532.6" y="350.5" width="1.1" height="12.50000000000001" fill="#e4f4e7"/><rect x="1575" y="350.5" width="4" height="12.50000000000001" fill="#e8f5ea"/><rect x="1580" y="350.5" width="1.5" height="12.50000000000001" fill="#8fd69b"/><rect x="1584" y="350.5" width="3" height="12.50000000000001" fill="#f0f0f0"/><rect x="1588" y="350.5" width="12" height="12.50000000000001" fill="#f2f2f2"/></svg><svg style="position:absolute;left:0;top:0" width="1600" height="843"><path d="M356.3 399.8 L356.3 390.5 L360 390.5 L364 388.5 L366 385.3 L379 385.3 L380 389 L387 389 L387 385.3 L392.6 385.3 L392.6 392.5 L399 392.5 L399 389.5 L402 389.5 L402 392.5 L413 392.5 L413 389.5 L421 389.5 L421 392.5 L427 392.5 L427 390 L429.3 386 L429.3 399.8 Z" fill="#efefef" stroke="#5ec19c" stroke-opacity="0.35" stroke-width="1"/><path d="M356.3 391.5 L359 391.5" fill="none" stroke="#4aa685" stroke-width="1.2"/><path d="M393 392.3 L399.4 392.3 L399.4 389.4" fill="none" stroke="#4aa685" stroke-width="1.2"/><path d="M403.3 389 L403.3 398.5" fill="none" stroke="#4aa685" stroke-width="1.2"/><path d="M403.3 392.3 L413 392.3 L413 389.6" fill="none" stroke="#4aa685" stroke-width="1.2"/><path d="M421 392.3 L426 392.3 L428.6 390.6 L428.6 386" fill="none" stroke="#4aa685" stroke-width="1.2"/><rect x="364" y="388.6" width="13.5" height="11.199999999999989" fill="#8fd6bd" stroke="#5ec19c" stroke-width="1"/><rect x="429.3" y="384.8" width="1170.7" height="15.0" fill="#8fd6bd"/><rect x="429.3" y="384.8" width="1170.7" height="1.9" fill="#5ec19c"/><rect x="429.3" y="398.3" width="1170.7" height="1.5" fill="#4aa685"/><rect x="431.5" y="386.1" width="3" height="13.7" fill="#e8f5f0"/><rect x="434.5" y="386.1" width="2" height="13.7" fill="#e2f3ec"/><rect x="530" y="386.1" width="1.3" height="13.7" fill="#e4f4ee"/><rect x="533.5" y="386.1" width="1.2" height="13.7" fill="#e4f4ee"/><rect x="631.5" y="386.1" width="1.2" height="13.7" fill="#e4f4ee"/><rect x="1562.4" y="386.1" width="6" height="13.7" fill="#eef6f2"/><rect x="1569" y="386.1" width="1.5" height="13.7" fill="#e6f3ee"/><rect x="1572" y="386.1" width="5" height="13.7" fill="#8fd7bd"/><rect x="1585" y="386.1" width="15" height="13.7" fill="#8fd7bd"/></svg><svg style="position:absolute;left:0;top:0" width="1600" height="843"><path d="M455 436.4 L455.4 436.4 L455.4 430.2 L461.5 430.2 L461.5 436.4 L499.1 436.4 L499.1 430.2 L503.6 430.2 L503.6 436.4 L513.4 436.4 L513.4 430.2 L517.9 430.2 L517.9 436.4 L533.5 436.4 L533.5 421.7 L538.5 421.7 L538.5 430.2 L542.6 430.2 L542.6 436.4 L548.3 436.4 L548.3 421.7 L552.6 421.7 L552.6 430.2 L557.1 430.2 L557.1 436.4 L812.5 436.4 L812.5 430.2 L817.5 430.2 L817.5 436.4 L837.5 436.4 L837.5 415.6 L1038.8 415.6 L1038.8 421.0 L1044.5 421.0 L1044.5 430.2 L1049.5 430.2 L1049.5 436.4 L1087.5 436.4 L1087.5 430.2 L1092.5 430.2 L1092.5 436.4 L1113.8 436.4 L1113.8 430.2 L1118.8 430.2 L1118.8 436.4 L1300.1 436.4 L1300.1 430.2 L1304.9 430.2 L1304.9 436.4 L1324.8 436.4 L1324.8 430.2 L1331.4 430.2 L1331.4 436.4 L1600 436.4 L1600 439.6 L455 439.6 Z" fill="#a6dedd"/><path d="M455 436.4 L455.4 436.4 L455.4 430.2 L461.5 430.2 L461.5 436.4 L499.1 436.4 L499.1 430.2 L503.6 430.2 L503.6 436.4 L513.4 436.4 L513.4 430.2 L517.9 430.2 L517.9 436.4 L533.5 436.4 L533.5 421.7 L538.5 421.7 L538.5 430.2 L542.6 430.2 L542.6 436.4 L548.3 436.4 L548.3 421.7 L552.6 421.7 L552.6 430.2 L557.1 430.2 L557.1 436.4 L812.5 436.4 L812.5 430.2 L817.5 430.2 L817.5 436.4 L837.5 436.4 L837.5 415.6 L1038.8 415.6 L1038.8 421.0 L1044.5 421.0 L1044.5 430.2 L1049.5 430.2 L1049.5 436.4 L1087.5 436.4 L1087.5 430.2 L1092.5 430.2 L1092.5 436.4 L1113.8 436.4 L1113.8 430.2 L1118.8 430.2 L1118.8 436.4 L1300.1 436.4 L1300.1 430.2 L1304.9 430.2 L1304.9 436.4 L1324.8 436.4 L1324.8 430.2 L1331.4 430.2 L1331.4 436.4 L1600 436.4" fill="none" stroke="#40a4a6" stroke-width="1.4"/></svg><svg style="position:absolute;left:0;top:0" width="1600" height="843"><line x1="356.3" y1="439.3" x2="1600" y2="439.3" stroke="#aab4b6" stroke-width="1" stroke-dasharray="5 3.5"/></svg><svg style="position:absolute;left:0;top:0" width="1600" height="843"><path d="M442.1 480 L442.1 464.8 L1600 464.8 L1600 480 Z" fill="#dddba3"/><path d="M442.1 480 L442.1 464.8 L1600 464.8" fill="none" stroke="#aaa740" stroke-width="1.4"/><path d="M442.1 520.2 L442.1 505.2 L1030 505.2 L1030 515.4 L1600 515.4 L1600 520.2 Z" fill="#dddba3"/><path d="M442.1 520.2 L442.1 505.2 L1030 505.2 L1030 515.4 L1600 515.4" fill="none" stroke="#a6a33a" stroke-width="1.4"/></svg><svg style="position:absolute;left:0;top:0" width="1600" height="843"><line x1="356.3" y1="479.8" x2="1600" y2="479.8" stroke="#b5b39a" stroke-width="1" stroke-dasharray="5 3.5"/></svg><svg style="position:absolute;left:0;top:0" width="1600" height="843"><line x1="356.3" y1="519.9" x2="1600" y2="519.9" stroke="#b5b39a" stroke-width="1" stroke-dasharray="5 3.5"/></svg><div style="position:absolute;left:441.6px;top:524.3px;width:368.69999999999993px;height:25.5px;background:#357d75;box-shadow:inset 1px 1px 0 #177064, inset 0 -1px 0 #0f6a5f"></div><div style="position:absolute;left:184.9px;top:529.1px;width:46px;height:19.4px;background:#c2d9fa;border-radius:3px"></div><div style="position:absolute;left:356.3px;top:611.3px;width:60.4px;height:22.7px;background:#fafcfd;"></div><svg style="position:absolute;left:0;top:0" width="1600" height="843"><path d="M461.4 651 L461.4 636.5 L555.5 636.5 L555.5 637.7 L607.6 637.7 L607.6 636.5 L837.5 636.5 L837.5 637.7 L1600 637.7 L1600 651 Z" fill="#dfbe9f"/><path d="M461.4 651 L461.4 636.5 L555.5 636.5 L555.5 637.7 L607.6 637.7 L607.6 636.5 L837.5 636.5 L837.5 637.7 L1600 637.7" fill="none" stroke="#b67c45" stroke-width="1.2"/></svg><svg style="position:absolute;left:0;top:0" width="1600" height="843"><line x1="356.3" y1="651.3" x2="1600" y2="651.3" stroke="#b39f8c" stroke-width="1" stroke-dasharray="5 3.5"/></svg><svg style="position:absolute;left:0;top:791.8px" width="1600" height="21.1"><defs><pattern id="tp791" width="5.3" height="10" patternUnits="userSpaceOnUse"><rect width="5.3" height="10" fill="#1fb09d"/><rect x="4.3" width="0.8" height="10" fill="#52c4b3"/></pattern></defs><rect x="476.2" y="0" width="2.8000000000000114" height="21.1" fill="url(#tp791)"/><rect x="481" y="0" width="2.6999999999999886" height="21.1" fill="url(#tp791)"/><rect x="492.2" y="0" width="6.199999999999989" height="21.1" fill="url(#tp791)"/><rect x="514.7" y="0" width="1.2999999999999545" height="21.1" fill="url(#tp791)"/><rect x="528.2" y="0" width="1.8999999999999773" height="21.1" fill="url(#tp791)"/><rect x="535.2" y="0" width="2.0" height="21.1" fill="url(#tp791)"/><rect x="539.4" y="0" width="3.3999999999999773" height="21.1" fill="url(#tp791)"/><rect x="545.6" y="0" width="2.7999999999999545" height="21.1" fill="url(#tp791)"/><rect x="553.2" y="0" width="3.099999999999909" height="21.1" fill="url(#tp791)"/><rect x="561" y="0" width="1.5" height="21.1" fill="url(#tp791)"/><rect x="564.7" y="0" width="13.299999999999955" height="21.1" fill="url(#tp791)"/><rect x="579.4" y="0" width="5.0" height="21.1" fill="url(#tp791)"/><rect x="587" y="0" width="7.7999999999999545" height="21.1" fill="url(#tp791)"/><rect x="596.2" y="0" width="2.0" height="21.1" fill="url(#tp791)"/><rect x="599.6" y="0" width="43.60000000000002" height="21.1" fill="url(#tp791)"/><rect x="644.9" y="0" width="66.60000000000002" height="21.1" fill="url(#tp791)"/><rect x="713" y="0" width="1.2999999999999545" height="21.1" fill="url(#tp791)"/><rect x="715.5" y="0" width="0.7999999999999545" height="21.1" fill="url(#tp791)"/><rect x="718" y="0" width="70.89999999999998" height="21.1" fill="url(#tp791)"/><rect x="790.8" y="0" width="45.0" height="21.1" fill="url(#tp791)"/><rect x="838" y="0" width="9.600000000000023" height="21.1" fill="url(#tp791)"/><rect x="849.3" y="0" width="59.30000000000007" height="21.1" fill="url(#tp791)"/><rect x="910" y="0" width="166" height="21.1" fill="url(#tp791)"/><rect x="1077.4" y="0" width="28.0" height="21.1" fill="url(#tp791)"/><rect x="1106.8" y="0" width="452.20000000000005" height="21.1" fill="url(#tp791)"/><rect x="1562" y="0" width="1.2000000000000455" height="21.1" fill="url(#tp791)"/><rect x="1597.7" y="0" width="2.2999999999999545" height="21.1" fill="url(#tp791)"/></svg><svg style="position:absolute;left:0;top:815.2px" width="1600" height="21.0"><defs><pattern id="tp815" width="5.3" height="10" patternUnits="userSpaceOnUse"><rect width="5.3" height="10" fill="#1fb09d"/><rect x="4.3" width="0.8" height="10" fill="#52c4b3"/></pattern></defs><rect x="472" y="0" width="9.800000000000011" height="21.0" fill="url(#tp815)"/><rect x="483.2" y="0" width="8.400000000000034" height="21.0" fill="url(#tp815)"/><rect x="499.2" y="0" width="1.400000000000034" height="21.0" fill="url(#tp815)"/><rect x="504.8" y="0" width="1.3999999999999773" height="21.0" fill="url(#tp815)"/><rect x="508.2" y="0" width="1.400000000000034" height="21.0" fill="url(#tp815)"/><rect x="513.8" y="0" width="136.70000000000005" height="21.0" fill="url(#tp815)"/><rect x="652.5" y="0" width="25.299999999999955" height="21.0" fill="url(#tp815)"/><rect x="680" y="0" width="89.70000000000005" height="21.0" fill="url(#tp815)"/><rect x="772" y="0" width="43.60000000000002" height="21.0" fill="url(#tp815)"/><rect x="817.5" y="0" width="8.5" height="21.0" fill="url(#tp815)"/><rect x="827.3" y="0" width="1.0" height="21.0" fill="url(#tp815)"/><rect x="831" y="0" width="15.5" height="21.0" fill="url(#tp815)"/><rect x="848.8" y="0" width="185.20000000000005" height="21.0" fill="url(#tp815)"/><rect x="1035.4" y="0" width="44.0" height="21.0" fill="url(#tp815)"/><rect x="1080.8" y="0" width="238.20000000000005" height="21.0" fill="url(#tp815)"/><rect x="1320.4" y="0" width="43.19999999999982" height="21.0" fill="url(#tp815)"/><rect x="1365" y="0" width="46" height="21.0" fill="url(#tp815)"/><rect x="1412.4" y="0" width="49.0" height="21.0" fill="url(#tp815)"/><rect x="1462.8" y="0" width="87.20000000000005" height="21.0" fill="url(#tp815)"/><rect x="1552" y="0" width="1" height="21.0" fill="url(#tp815)"/><rect x="1558" y="0" width="1.2000000000000455" height="21.0" fill="url(#tp815)"/><rect x="1561" y="0" width="1.2000000000000455" height="21.0" fill="url(#tp815)"/><rect x="1575" y="0" width="1.2000000000000455" height="21.0" fill="url(#tp815)"/><rect x="1588.2" y="0" width="1.2000000000000455" height="21.0" fill="url(#tp815)"/></svg><svg style="position:absolute;left:0.8px;top:564.70px" width="33" height="33" viewBox="0 0 24 24"><path fill="#111" d="M16.59 8.59L12 13.17 7.41 8.59 6 10l6 6 6-6z"/></svg><svg style="position:absolute;left:0.8px;top:622.46px" width="33" height="33" viewBox="0 0 24 24"><path fill="#111" d="M16.59 8.59L12 13.17 7.41 8.59 6 10l6 6 6-6z"/></svg><svg style="position:absolute;left:0.8px;top:680.22px" width="33" height="33" viewBox="0 0 24 24"><path fill="#111" d="M16.59 8.59L12 13.17 7.41 8.59 6 10l6 6 6-6z"/></svg><svg style="position:absolute;left:0.8px;top:737.98px" width="33" height="33" viewBox="0 0 24 24"><path fill="#111" d="M16.59 8.59L12 13.17 7.41 8.59 6 10l6 6 6-6z"/></svg><svg style="position:absolute;left:0.8px;top:795.74px" width="33" height="33" viewBox="0 0 24 24"><path fill="#111" d="M16.59 8.59L12 13.17 7.41 8.59 6 10l6 6 6-6z"/></svg><svg style="position:absolute;left:294.2px;top:409.0px" width="22" height="22" viewBox="0 0 24 24"><path fill="#111" d="M3.5 18.49l6-6.01 4 4L22 6.92l-1.41-1.41-7.09 7.97-4-4L2 16.99z"/></svg><svg style="position:absolute;left:294.2px;top:449.5px" width="22" height="22" viewBox="0 0 24 24"><path fill="#111" d="M3.5 18.49l6-6.01 4 4L22 6.92l-1.41-1.41-7.09 7.97-4-4L2 16.99z"/></svg><svg style="position:absolute;left:294.2px;top:489.6px" width="22" height="22" viewBox="0 0 24 24"><path fill="#111" d="M3.5 18.49l6-6.01 4 4L22 6.92l-1.41-1.41-7.09 7.97-4-4L2 16.99z"/></svg>
<div style="position:absolute;left:435.55px;top:13.00px;font-size:27px;font-weight:400;color:#a9acb1;line-height:1;white-space:pre;transform:scaleX(0.8457);transform-origin:0 0;will-change:transform;">Search or type &#39;&gt;&#39; for commands or &#39;:&#39; for SQL mode</div><div style="position:absolute;left:363.10px;top:70.00px;font-size:15.5px;font-weight:400;color:#8a8a8a;line-height:1;white-space:pre;transform:scaleX(0.8100);transform-origin:0 0;will-change:transform;">00:00:00</div><div style="position:absolute;left:632.08px;top:70.00px;font-size:15.5px;font-weight:400;color:#8a8a8a;line-height:1;white-space:pre;transform:scaleX(0.8100);transform-origin:0 0;will-change:transform;">00:00:02</div><div style="position:absolute;left:901.06px;top:70.00px;font-size:15.5px;font-weight:400;color:#8a8a8a;line-height:1;white-space:pre;transform:scaleX(0.8100);transform-origin:0 0;will-change:transform;">00:00:04</div><div style="position:absolute;left:1170.04px;top:70.00px;font-size:15.5px;font-weight:400;color:#8a8a8a;line-height:1;white-space:pre;transform:scaleX(0.8100);transform-origin:0 0;will-change:transform;">00:00:06</div><div style="position:absolute;left:1439.02px;top:70.00px;font-size:15.5px;font-weight:400;color:#8a8a8a;line-height:1;white-space:pre;transform:scaleX(0.8100);transform-origin:0 0;will-change:transform;">00:00:08</div><div style="position:absolute;left:362.90px;top:159.00px;font-size:16.5px;font-weight:400;color:#8f8f8f;line-height:1;white-space:pre;transform:scaleX(0.8328);transform-origin:0 0;will-change:transform;">00:00:00</div><div style="position:absolute;left:362.90px;top:174.00px;font-size:15.6px;font-weight:400;color:#8f8f8f;line-height:1;white-space:pre;transform:scaleX(0.8310);transform-origin:0 0;will-change:transform;">000 000 000</div><div style="position:absolute;left:632.03px;top:159.00px;font-size:16.5px;font-weight:400;color:#8f8f8f;line-height:1;white-space:pre;transform:scaleX(0.8328);transform-origin:0 0;will-change:transform;">00:00:02</div><div style="position:absolute;left:632.03px;top:174.00px;font-size:15.6px;font-weight:400;color:#8f8f8f;line-height:1;white-space:pre;transform:scaleX(0.8310);transform-origin:0 0;will-change:transform;">000 000 000</div><div style="position:absolute;left:901.16px;top:159.00px;font-size:16.5px;font-weight:400;color:#8f8f8f;line-height:1;white-space:pre;transform:scaleX(0.8328);transform-origin:0 0;will-change:transform;">00:00:04</div><div style="position:absolute;left:901.16px;top:174.00px;font-size:15.6px;font-weight:400;color:#8f8f8f;line-height:1;white-space:pre;transform:scaleX(0.8310);transform-origin:0 0;will-change:transform;">000 000 000</div><div style="position:absolute;left:1170.29px;top:159.00px;font-size:16.5px;font-weight:400;color:#8f8f8f;line-height:1;white-space:pre;transform:scaleX(0.8328);transform-origin:0 0;will-change:transform;">00:00:06</div><div style="position:absolute;left:1170.29px;top:174.00px;font-size:15.6px;font-weight:400;color:#8f8f8f;line-height:1;white-space:pre;transform:scaleX(0.8310);transform-origin:0 0;will-change:transform;">000 000 000</div><div style="position:absolute;left:1439.42px;top:159.00px;font-size:16.5px;font-weight:400;color:#8f8f8f;line-height:1;white-space:pre;transform:scaleX(0.8328);transform-origin:0 0;will-change:transform;">00:00:08</div><div style="position:absolute;left:1439.42px;top:174.00px;font-size:15.6px;font-weight:400;color:#8f8f8f;line-height:1;white-space:pre;transform:scaleX(0.8310);transform-origin:0 0;will-change:transform;">000 000 000</div><div style="position:absolute;left:3.60px;top:158.00px;font-size:16.2px;font-weight:400;color:#8f8f8f;line-height:1;white-space:pre;transform:scaleX(0.8333);transform-origin:0 0;will-change:transform;">00:16:33</div><div style="position:absolute;left:3.30px;top:174.00px;font-size:15.6px;font-weight:400;color:#8f8f8f;line-height:1;white-space:pre;transform:scaleX(0.8287);transform-origin:0 0;will-change:transform;">364 785 828</div><div style="position:absolute;left:82.02px;top:157.00px;font-size:18px;font-weight:400;color:#8f8f8f;line-height:1;white-space:pre;transform:scaleX(0.7778);transform-origin:0 0;will-change:transform;">+</div><div style="position:absolute;left:8.82px;top:251.00px;font-size:21.6px;font-weight:400;color:#34455c;line-height:1;white-space:pre;transform:scaleX(0.7804);transform-origin:0 0;will-change:transform;">Cpu 0</div><div style="position:absolute;left:8.84px;top:295.00px;font-size:21.6px;font-weight:400;color:#34455c;line-height:1;white-space:pre;transform:scaleX(0.7607);transform-origin:0 0;will-change:transform;">Cpu 1</div><div style="position:absolute;left:8.81px;top:334.00px;font-size:21.6px;font-weight:400;color:#34455c;line-height:1;white-space:pre;transform:scaleX(0.7861);transform-origin:0 0;will-change:transform;">Cpu 0 Frequency</div><div style="position:absolute;left:8.81px;top:370.00px;font-size:21.6px;font-weight:400;color:#34455c;line-height:1;white-space:pre;transform:scaleX(0.7861);transform-origin:0 0;will-change:transform;">Cpu 1 Frequency</div><div style="position:absolute;left:8.81px;top:409.00px;font-size:21.6px;font-weight:400;color:#34455c;line-height:1;white-space:pre;transform:scaleX(0.7855);transform-origin:0 0;will-change:transform;">Gpu 0 Frequency</div><div style="position:absolute;left:8.80px;top:450.00px;font-size:21.6px;font-weight:400;color:#34455c;line-height:1;white-space:pre;transform:scaleX(0.8000);transform-origin:0 0;will-change:transform;">Cpu 0 Max Freq Limit</div><div style="position:absolute;left:8.80px;top:490.00px;font-size:21.6px;font-weight:400;color:#34455c;line-height:1;white-space:pre;transform:scaleX(0.8035);transform-origin:0 0;will-change:transform;">Cpu 0 Min Freq Limit</div><div style="position:absolute;left:9.60px;top:526.00px;font-size:21.6px;font-weight:400;color:#34455c;line-height:1;white-space:pre;transform:scaleX(0.8132);transform-origin:0 0;will-change:transform;">Android App Startups</div><div style="position:absolute;left:186.86px;top:530.00px;font-size:18px;font-weight:400;color:#3b4a5e;line-height:1;white-space:pre;transform:scaleX(0.8417);transform-origin:0 0;will-change:transform;">metric</div><div style="position:absolute;left:40.40px;top:571.00px;font-size:21.6px;font-weight:400;color:#1c1c1c;line-height:1;white-space:pre;transform:scaleX(0.7962);transform-origin:0 0;will-change:transform;">Ftrace Events</div><div style="position:absolute;left:40.39px;top:629.00px;font-size:21.6px;font-weight:400;color:#1c1c1c;line-height:1;white-space:pre;transform:scaleX(0.8052);transform-origin:0 0;will-change:transform;">mem.dma_heap</div><div style="position:absolute;left:40.39px;top:687.00px;font-size:21.6px;font-weight:400;color:#1c1c1c;line-height:1;white-space:pre;transform:scaleX(0.8105);transform-origin:0 0;will-change:transform;">Misc Global Tracks</div><div style="position:absolute;left:40.39px;top:744.00px;font-size:21.6px;font-weight:400;color:#1c1c1c;line-height:1;white-space:pre;transform:scaleX(0.8079);transform-origin:0 0;will-change:transform;">Kernel threads</div><div style="position:absolute;left:40.90px;top:801.00px;font-size:21.6px;font-weight:400;color:#1c1c1c;line-height:1;white-space:pre;transform:scaleX(0.8216);transform-origin:0 0;will-change:transform;">com.google.android.gm 10836</div><div style="position:absolute;left:361.90px;top:335.00px;font-size:15px;font-weight:400;color:#3c3c3c;line-height:1;white-space:pre;transform:scaleX(0.8055);transform-origin:0 0;will-change:transform;">2.5 GHz</div><div style="position:absolute;left:361.90px;top:371.00px;font-size:15px;font-weight:400;color:#3c3c3c;line-height:1;white-space:pre;transform:scaleX(0.8055);transform-origin:0 0;will-change:transform;">2.5 GHz</div><div style="position:absolute;left:363.50px;top:407.00px;font-size:15px;font-weight:400;color:#3c3c3c;line-height:1;white-space:pre;transform:scaleX(0.8372);transform-origin:0 0;will-change:transform;">0.75 K</div><div style="position:absolute;left:363.50px;top:447.00px;font-size:15px;font-weight:400;color:#3c3c3c;line-height:1;white-space:pre;transform:scaleX(0.8378);transform-origin:0 0;will-change:transform;">2.5 M</div><div style="position:absolute;left:363.50px;top:488.00px;font-size:15px;font-weight:400;color:#3c3c3c;line-height:1;white-space:pre;transform:scaleX(0.8378);transform-origin:0 0;will-change:transform;">2.5 M</div><div style="position:absolute;left:363.50px;top:618.00px;font-size:15px;font-weight:400;color:#3c3c3c;line-height:1;white-space:pre;transform:scaleX(0.8394);transform-origin:0 0;will-change:transform;">25 M</div><div style="position:absolute;left:544.50px;top:527.00px;font-size:18px;font-weight:700;color:#ffffff;line-height:1;white-space:pre;transform:scaleX(0.7980);transform-origin:0 0;will-change:transform;">com.google.android.gm</div>
</body></html>
